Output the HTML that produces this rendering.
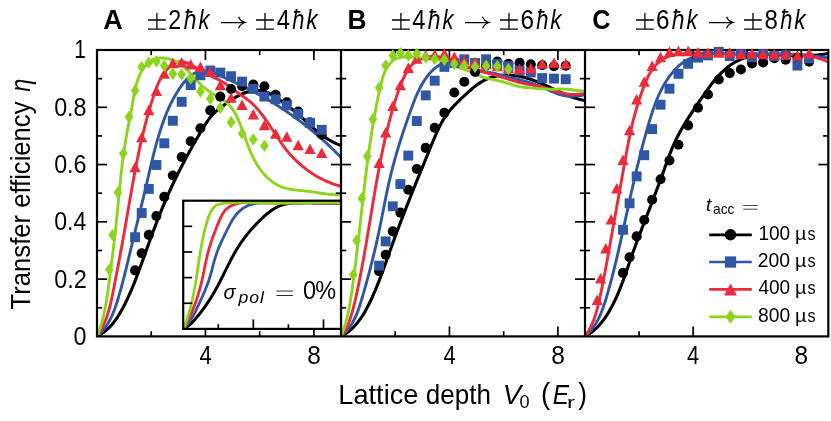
<!DOCTYPE html>
<html><head><meta charset="utf-8"><title>Transfer efficiency</title>
<style>
html,body{margin:0;padding:0;background:#fff;}
body{width:831px;height:421px;overflow:hidden;font-family:"Liberation Sans",sans-serif;}
svg{display:block;}
text{font-family:"Liberation Sans",sans-serif;fill:#000;}
.tk{font-size:20.6px;}
.lg{font-size:18.2px;}
.lgi{font-size:18.2px;font-style:italic;}
.sub{font-size:14px;}
.tb{font-size:24.4px;font-weight:bold;}
.tr{font-size:23.4px;}
.ti{font-size:23.4px;font-style:italic;}
.ax{font-size:26px;}
.axi{font-size:26px;font-style:italic;}
.axs{font-size:18px;}
.insub{font-size:18px;font-style:italic;letter-spacing:1.6px;}
.yl{letter-spacing:0.5px;}
</style></head>
<body>
<svg width="831" height="421" viewBox="0 0 831 421">
<rect width="831" height="421" fill="#fff"/>
<defs>
<clipPath id="cA"><rect x="97" y="50" width="244" height="286.4"/></clipPath>
<clipPath id="cB"><rect x="341" y="50" width="244" height="286.4"/></clipPath>
<clipPath id="cC"><rect x="585" y="50" width="243.3" height="286.4"/></clipPath>
<clipPath id="cI"><rect x="183.2" y="200.7" width="157.8" height="128.5"/></clipPath>
</defs>
<g clip-path="url(#cA)">
<path d="M97 336.4 L98.36 335.7 L99.69 334.96 L100.97 334.17 L102.23 333.35 L103.44 332.49 L104.63 331.59 L105.78 330.66 L106.89 329.69 L107.98 328.69 L109.04 327.67 L110.07 326.61 L111.07 325.52 L112.04 324.41 L112.99 323.27 L113.92 322.11 L114.82 320.93 L115.7 319.73 L116.55 318.5 L117.39 317.26 L118.2 316.01 L119 314.74 L119.78 313.45 L120.54 312.15 L121.28 310.84 L122.02 309.53 L122.73 308.2 L123.44 306.87 L124.13 305.53 L124.81 304.19 L125.49 302.85 L126.15 301.5 L126.8 300.15 L127.44 298.8 L128.08 297.44 L128.7 296.08 L129.32 294.72 L129.93 293.35 L130.53 291.98 L131.12 290.61 L131.7 289.24 L132.28 287.86 L132.85 286.48 L133.42 285.1 L133.98 283.72 L134.53 282.34 L135.08 280.95 L135.62 279.56 L136.16 278.17 L136.69 276.78 L137.22 275.38 L137.75 273.99 L138.27 272.59 L138.79 271.19 L139.31 269.79 L139.82 268.39 L140.33 266.99 L140.84 265.58 L141.35 264.18 L141.85 262.77 L142.36 261.37 L142.86 259.96 L143.36 258.55 L143.87 257.14 L144.37 255.74 L144.88 254.33 L145.38 252.92 L145.89 251.51 L146.39 250.1 L146.9 248.69 L147.41 247.28 L147.92 245.87 L148.43 244.46 L148.94 243.06 L149.45 241.65 L149.96 240.24 L150.48 238.83 L150.99 237.42 L151.51 236.02 L152.03 234.61 L152.55 233.2 L153.07 231.8 L153.6 230.39 L154.13 228.99 L154.65 227.59 L155.19 226.18 L155.72 224.78 L156.25 223.38 L156.79 221.98 L157.33 220.59 L157.88 219.19 L158.42 217.8 L158.97 216.4 L159.52 215.01 L160.08 213.62 L160.63 212.23 L161.19 210.84 L161.76 209.46 L162.32 208.07 L162.9 206.69 L163.47 205.31 L164.05 203.93 L164.63 202.56 L165.21 201.18 L165.8 199.81 L166.39 198.44 L166.99 197.07 L167.59 195.71 L168.19 194.34 L168.8 192.98 L169.41 191.62 L170.03 190.27 L170.65 188.91 L171.27 187.56 L171.89 186.2 L172.52 184.85 L173.16 183.51 L173.8 182.16 L174.44 180.81 L175.08 179.47 L175.73 178.13 L176.38 176.79 L177.04 175.45 L177.7 174.11 L178.36 172.78 L179.03 171.44 L179.7 170.11 L180.37 168.78 L181.05 167.45 L181.73 166.12 L182.42 164.8 L183.1 163.47 L183.8 162.15 L184.49 160.82 L185.19 159.5 L185.89 158.18 L186.6 156.86 L187.31 155.54 L188.02 154.23 L188.74 152.91 L189.46 151.59 L190.19 150.28 L190.91 148.97 L191.65 147.65 L192.38 146.34 L193.12 145.03 L193.86 143.72 L194.6 142.42 L195.35 141.11 L196.11 139.81 L196.86 138.51 L197.62 137.21 L198.38 135.91 L199.15 134.62 L199.91 133.33 L200.69 132.04 L201.46 130.76 L202.24 129.48 L203.02 128.2 L203.81 126.92 L204.59 125.65 L205.39 124.38 L206.19 123.13 L207 121.88 L207.82 120.65 L208.67 119.44 L209.54 118.26 L210.44 117.1 L211.37 115.97 L212.33 114.88 L213.34 113.84 L214.38 112.82 L215.45 111.84 L216.56 110.89 L217.69 109.96 L218.85 109.04 L220.02 108.13 L221.21 107.22 L222.41 106.31 L223.63 105.39 L224.85 104.48 L226.08 103.58 L227.32 102.68 L228.57 101.79 L229.84 100.91 L231.11 100.05 L232.39 99.21 L233.69 98.39 L234.99 97.6 L236.31 96.83 L237.63 96.09 L238.97 95.39 L240.31 94.72 L241.67 94.1 L243.04 93.51 L244.41 92.97 L245.8 92.48 L247.2 92.03 L248.6 91.64 L250.02 91.31 L251.45 91.04 L252.89 90.83 L254.33 90.68 L255.79 90.6 L257.24 90.59 L258.7 90.66 L260.15 90.79 L261.59 91.01 L263.03 91.3 L264.44 91.67 L265.84 92.12 L267.22 92.64 L268.58 93.23 L269.93 93.88 L271.26 94.58 L272.58 95.32 L273.88 96.09 L275.17 96.89 L276.45 97.71 L277.72 98.54 L278.97 99.38 L280.22 100.23 L281.45 101.09 L282.68 101.96 L283.9 102.84 L285.11 103.73 L286.31 104.63 L287.5 105.54 L288.68 106.45 L289.85 107.38 L291.02 108.32 L292.18 109.26 L293.33 110.21 L294.48 111.17 L295.62 112.13 L296.75 113.11 L297.88 114.09 L299 115.08 L300.12 116.07 L301.24 117.07 L302.35 118.08 L303.45 119.09 L304.56 120.1 L305.66 121.11 L306.77 122.12 L307.87 123.13 L308.98 124.13 L310.09 125.14 L311.2 126.14 L312.32 127.13 L313.44 128.11 L314.56 129.09 L315.7 130.06 L316.84 131.01 L317.99 131.95 L319.14 132.88 L320.31 133.8 L321.49 134.7 L322.68 135.58 L323.88 136.45 L325.09 137.29 L326.32 138.12 L327.57 138.92 L328.82 139.7 L330.1 140.46 L331.39 141.19 L332.7 141.89 L334.04 142.57 L335.39 143.22 L336.76 143.84 L338.15 144.42 L339.56 144.98 L341 145.5" fill="none" stroke="#000000" stroke-width="3.1" stroke-linejoin="round"/>
<path d="M97 336.4 L98.15 335.41 L99.26 334.38 L100.32 333.33 L101.35 332.25 L102.34 331.14 L103.3 330.01 L104.21 328.86 L105.1 327.68 L105.95 326.48 L106.77 325.26 L107.56 324.02 L108.32 322.76 L109.05 321.48 L109.75 320.19 L110.43 318.87 L111.09 317.54 L111.72 316.2 L112.32 314.84 L112.91 313.47 L113.48 312.09 L114.03 310.7 L114.56 309.3 L115.07 307.89 L115.57 306.47 L116.06 305.04 L116.53 303.61 L117 302.17 L117.45 300.73 L117.89 299.28 L118.33 297.83 L118.75 296.38 L119.18 294.93 L119.59 293.48 L120.01 292.03 L120.41 290.58 L120.82 289.13 L121.22 287.68 L121.61 286.23 L122 284.77 L122.39 283.32 L122.77 281.87 L123.16 280.42 L123.53 278.97 L123.91 277.51 L124.28 276.06 L124.64 274.61 L125.01 273.15 L125.37 271.7 L125.73 270.25 L126.09 268.8 L126.45 267.34 L126.8 265.89 L127.15 264.44 L127.51 262.98 L127.86 261.53 L128.2 260.08 L128.55 258.62 L128.9 257.17 L129.25 255.72 L129.59 254.26 L129.94 252.81 L130.28 251.36 L130.63 249.9 L130.97 248.45 L131.32 247 L131.67 245.55 L132.01 244.09 L132.36 242.64 L132.71 241.19 L133.06 239.74 L133.41 238.29 L133.76 236.83 L134.12 235.38 L134.47 233.93 L134.82 232.48 L135.18 231.03 L135.53 229.58 L135.89 228.13 L136.25 226.67 L136.6 225.22 L136.96 223.77 L137.32 222.32 L137.68 220.87 L138.03 219.41 L138.39 217.96 L138.75 216.51 L139.11 215.06 L139.46 213.6 L139.82 212.15 L140.18 210.7 L140.54 209.24 L140.89 207.79 L141.25 206.33 L141.61 204.88 L141.96 203.42 L142.32 201.96 L142.67 200.51 L143.02 199.05 L143.37 197.59 L143.73 196.13 L144.08 194.67 L144.43 193.21 L144.78 191.75 L145.12 190.29 L145.47 188.83 L145.81 187.37 L146.16 185.9 L146.5 184.44 L146.84 182.98 L147.18 181.51 L147.52 180.04 L147.86 178.58 L148.2 177.11 L148.54 175.65 L148.88 174.18 L149.22 172.71 L149.56 171.25 L149.9 169.78 L150.24 168.31 L150.59 166.85 L150.93 165.39 L151.28 163.92 L151.63 162.46 L151.98 161 L152.33 159.54 L152.68 158.08 L153.04 156.62 L153.4 155.16 L153.77 153.71 L154.14 152.25 L154.51 150.8 L154.88 149.35 L155.26 147.9 L155.65 146.46 L156.03 145.01 L156.43 143.57 L156.83 142.13 L157.23 140.69 L157.64 139.26 L158.05 137.83 L158.47 136.4 L158.9 134.97 L159.33 133.55 L159.77 132.13 L160.21 130.71 L160.67 129.3 L161.12 127.89 L161.59 126.49 L162.07 125.08 L162.55 123.68 L163.04 122.29 L163.54 120.9 L164.05 119.51 L164.56 118.13 L165.09 116.75 L165.63 115.37 L166.19 113.99 L166.75 112.62 L167.32 111.26 L167.91 109.9 L168.52 108.54 L169.13 107.18 L169.76 105.83 L170.41 104.48 L171.07 103.13 L171.74 101.79 L172.44 100.45 L173.14 99.11 L173.87 97.78 L174.62 96.45 L175.38 95.13 L176.16 93.8 L176.96 92.48 L177.78 91.17 L178.62 89.86 L179.48 88.55 L180.37 87.25 L181.27 85.96 L182.2 84.69 L183.15 83.45 L184.13 82.23 L185.13 81.05 L186.15 79.91 L187.2 78.81 L188.28 77.76 L189.38 76.76 L190.51 75.82 L191.67 74.95 L192.85 74.14 L194.07 73.41 L195.31 72.76 L196.59 72.19 L197.9 71.71 L199.23 71.33 L200.59 71.03 L201.97 70.83 L203.37 70.73 L204.77 70.73 L206.18 70.83 L207.59 71.03 L209 71.31 L210.41 71.68 L211.82 72.11 L213.23 72.6 L214.64 73.14 L216.05 73.73 L217.45 74.34 L218.85 74.98 L220.25 75.63 L221.65 76.29 L223.04 76.94 L224.43 77.58 L225.82 78.23 L227.2 78.87 L228.58 79.51 L229.95 80.14 L231.32 80.78 L232.69 81.42 L234.05 82.05 L235.41 82.69 L236.77 83.33 L238.12 83.97 L239.47 84.61 L240.82 85.26 L242.17 85.91 L243.51 86.56 L244.85 87.22 L246.18 87.88 L247.52 88.55 L248.85 89.23 L250.18 89.91 L251.5 90.59 L252.82 91.29 L254.14 91.98 L255.46 92.69 L256.77 93.4 L258.09 94.11 L259.39 94.83 L260.7 95.56 L262 96.29 L263.3 97.03 L264.6 97.77 L265.89 98.52 L267.18 99.27 L268.47 100.03 L269.75 100.8 L271.03 101.57 L272.31 102.35 L273.58 103.13 L274.85 103.91 L276.12 104.71 L277.38 105.51 L278.64 106.31 L279.9 107.12 L281.15 107.93 L282.4 108.75 L283.65 109.58 L284.89 110.41 L286.13 111.25 L287.37 112.09 L288.6 112.94 L289.83 113.79 L291.06 114.65 L292.28 115.51 L293.5 116.38 L294.71 117.25 L295.92 118.13 L297.13 119.01 L298.33 119.9 L299.53 120.8 L300.73 121.7 L301.92 122.6 L303.11 123.52 L304.29 124.43 L305.47 125.35 L306.65 126.28 L307.82 127.21 L308.99 128.15 L310.15 129.09 L311.31 130.04 L312.47 130.99 L313.62 131.94 L314.77 132.91 L315.91 133.87 L317.05 134.85 L318.19 135.82 L319.32 136.81 L320.44 137.79 L321.57 138.79 L322.68 139.78 L323.8 140.79 L324.91 141.79 L326.01 142.81 L327.11 143.82 L328.21 144.85 L329.3 145.87 L330.39 146.91 L331.47 147.94 L332.55 148.99 L333.62 150.03 L334.69 151.09 L335.75 152.14 L336.81 153.2 L337.86 154.27 L338.91 155.34 L339.96 156.42 L341 157.5" fill="none" stroke="#2f57a6" stroke-width="2.9" stroke-linejoin="round"/>
<path d="M97 336.4 L97.87 335.16 L98.7 333.9 L99.5 332.63 L100.27 331.34 L101.01 330.05 L101.72 328.74 L102.4 327.42 L103.05 326.09 L103.68 324.75 L104.28 323.4 L104.85 322.03 L105.4 320.66 L105.93 319.28 L106.44 317.89 L106.93 316.5 L107.4 315.09 L107.85 313.68 L108.28 312.26 L108.7 310.83 L109.1 309.4 L109.48 307.96 L109.85 306.52 L110.21 305.07 L110.56 303.62 L110.9 302.16 L111.23 300.7 L111.55 299.24 L111.86 297.77 L112.17 296.3 L112.47 294.83 L112.76 293.36 L113.06 291.89 L113.35 290.41 L113.63 288.94 L113.92 287.46 L114.21 285.99 L114.5 284.51 L114.79 283.04 L115.07 281.56 L115.36 280.09 L115.64 278.61 L115.93 277.14 L116.21 275.67 L116.49 274.19 L116.78 272.72 L117.06 271.24 L117.34 269.77 L117.62 268.29 L117.9 266.82 L118.18 265.35 L118.46 263.87 L118.74 262.4 L119.02 260.92 L119.29 259.45 L119.57 257.98 L119.84 256.5 L120.12 255.03 L120.39 253.56 L120.66 252.08 L120.94 250.61 L121.21 249.13 L121.48 247.66 L121.75 246.19 L122.02 244.71 L122.29 243.24 L122.55 241.77 L122.82 240.29 L123.08 238.82 L123.35 237.35 L123.61 235.87 L123.88 234.4 L124.14 232.93 L124.4 231.45 L124.66 229.98 L124.92 228.51 L125.18 227.03 L125.43 225.56 L125.69 224.09 L125.95 222.61 L126.2 221.14 L126.46 219.67 L126.71 218.2 L126.96 216.72 L127.22 215.25 L127.47 213.78 L127.72 212.3 L127.98 210.83 L128.23 209.36 L128.48 207.89 L128.73 206.42 L128.99 204.94 L129.24 203.47 L129.49 202 L129.75 200.53 L130 199.06 L130.26 197.59 L130.51 196.11 L130.77 194.64 L131.02 193.17 L131.28 191.7 L131.54 190.23 L131.8 188.76 L132.06 187.29 L132.32 185.82 L132.58 184.35 L132.85 182.88 L133.11 181.41 L133.38 179.95 L133.65 178.48 L133.92 177.01 L134.19 175.54 L134.46 174.07 L134.74 172.61 L135.01 171.14 L135.29 169.67 L135.57 168.21 L135.86 166.74 L136.14 165.27 L136.43 163.81 L136.72 162.34 L137.01 160.88 L137.3 159.41 L137.6 157.95 L137.9 156.49 L138.2 155.02 L138.51 153.56 L138.81 152.1 L139.12 150.64 L139.44 149.17 L139.75 147.71 L140.07 146.25 L140.39 144.79 L140.72 143.33 L141.05 141.87 L141.38 140.41 L141.72 138.95 L142.06 137.49 L142.4 136.04 L142.75 134.58 L143.1 133.12 L143.45 131.67 L143.81 130.21 L144.17 128.75 L144.54 127.3 L144.91 125.84 L145.28 124.39 L145.66 122.94 L146.04 121.48 L146.43 120.03 L146.82 118.58 L147.22 117.13 L147.62 115.68 L148.03 114.23 L148.44 112.78 L148.85 111.33 L149.27 109.88 L149.7 108.43 L150.13 106.99 L150.57 105.54 L151.01 104.09 L151.45 102.65 L151.9 101.2 L152.36 99.76 L152.82 98.32 L153.29 96.87 L153.77 95.43 L154.25 93.99 L154.73 92.55 L155.23 91.12 L155.74 89.69 L156.27 88.27 L156.81 86.86 L157.36 85.46 L157.94 84.08 L158.54 82.71 L159.17 81.36 L159.82 80.03 L160.49 78.72 L161.2 77.43 L161.94 76.16 L162.71 74.92 L163.52 73.71 L164.37 72.53 L165.25 71.38 L166.18 70.26 L167.15 69.18 L168.17 68.13 L169.24 67.13 L170.35 66.16 L171.51 65.26 L172.7 64.43 L173.93 63.69 L175.2 63.04 L176.5 62.5 L177.82 62.09 L179.17 61.81 L180.53 61.68 L181.91 61.71 L183.31 61.87 L184.7 62.16 L186.09 62.56 L187.48 63.07 L188.86 63.67 L190.23 64.35 L191.59 65.09 L192.95 65.88 L194.31 66.71 L195.66 67.56 L197.01 68.42 L198.36 69.28 L199.71 70.12 L201.06 70.92 L202.41 71.69 L203.76 72.43 L205.11 73.14 L206.46 73.83 L207.8 74.5 L209.14 75.16 L210.48 75.8 L211.82 76.44 L213.15 77.07 L214.47 77.7 L215.79 78.34 L217.1 78.98 L218.4 79.63 L219.69 80.3 L220.97 80.99 L222.24 81.7 L223.5 82.44 L224.75 83.21 L225.99 84.01 L227.21 84.85 L228.42 85.71 L229.63 86.6 L230.84 87.5 L232.05 88.41 L233.25 89.33 L234.47 90.25 L235.69 91.16 L236.92 92.07 L238.16 92.96 L239.4 93.84 L240.66 94.71 L241.91 95.58 L243.16 96.45 L244.4 97.33 L245.62 98.21 L246.83 99.11 L248.02 100.03 L249.19 100.97 L250.33 101.94 L251.44 102.92 L252.53 103.93 L253.6 104.96 L254.64 106 L255.67 107.07 L256.67 108.15 L257.65 109.25 L258.62 110.37 L259.57 111.5 L260.51 112.65 L261.42 113.81 L262.33 114.99 L263.22 116.17 L264.1 117.37 L264.97 118.57 L265.83 119.79 L266.68 121.01 L267.52 122.25 L268.36 123.49 L269.19 124.73 L270.01 125.98 L270.83 127.23 L271.65 128.49 L272.46 129.75 L273.28 131.01 L274.09 132.27 L274.91 133.53 L275.72 134.79 L276.55 136.05 L277.37 137.31 L278.2 138.56 L279.03 139.81 L279.88 141.05 L280.73 142.29 L281.59 143.51 L282.46 144.74 L283.34 145.95 L284.23 147.15 L285.14 148.34 L286.06 149.52 L286.99 150.69 L287.94 151.84 L288.91 152.99 L289.89 154.11 L290.88 155.23 L291.89 156.33 L292.92 157.42 L293.95 158.49 L295.01 159.55 L296.07 160.6 L297.16 161.63 L298.25 162.64 L299.36 163.64 L300.48 164.63 L301.62 165.59 L302.76 166.55 L303.93 167.48 L305.1 168.4 L306.29 169.31 L307.48 170.19 L308.7 171.06 L309.92 171.92 L311.15 172.75 L312.4 173.57 L313.66 174.37 L314.93 175.15 L316.21 175.92 L317.5 176.66 L318.8 177.39 L320.12 178.1 L321.44 178.79 L322.78 179.45 L324.12 180.1 L325.48 180.73 L326.84 181.34 L328.22 181.93 L329.6 182.5 L330.99 183.05 L332.4 183.58 L333.81 184.09 L335.23 184.57 L336.66 185.04 L338.1 185.48 L339.55 185.9 L341 186.3" fill="none" stroke="#ec2a3a" stroke-width="2.9" stroke-linejoin="round"/>
<path d="M97 336.4 L97.57 335 L98.12 333.6 L98.65 332.19 L99.16 330.78 L99.66 329.36 L100.13 327.94 L100.59 326.51 L101.03 325.08 L101.46 323.65 L101.87 322.21 L102.27 320.77 L102.65 319.32 L103.02 317.87 L103.37 316.42 L103.71 314.96 L104.04 313.5 L104.36 312.04 L104.67 310.58 L104.97 309.11 L105.25 307.64 L105.53 306.17 L105.8 304.69 L106.05 303.22 L106.31 301.74 L106.55 300.26 L106.78 298.78 L107.02 297.29 L107.24 295.81 L107.46 294.33 L107.67 292.84 L107.88 291.35 L108.09 289.87 L108.29 288.38 L108.49 286.89 L108.69 285.4 L108.88 283.91 L109.08 282.43 L109.27 280.94 L109.47 279.45 L109.66 277.96 L109.85 276.48 L110.05 274.99 L110.24 273.5 L110.43 272.02 L110.62 270.53 L110.81 269.05 L111 267.56 L111.19 266.07 L111.38 264.59 L111.56 263.1 L111.75 261.62 L111.94 260.13 L112.12 258.65 L112.31 257.16 L112.49 255.68 L112.67 254.19 L112.85 252.71 L113.03 251.22 L113.21 249.74 L113.39 248.25 L113.57 246.77 L113.74 245.28 L113.92 243.8 L114.09 242.31 L114.27 240.82 L114.44 239.34 L114.61 237.85 L114.78 236.36 L114.95 234.88 L115.12 233.39 L115.28 231.9 L115.45 230.41 L115.61 228.92 L115.77 227.43 L115.94 225.95 L116.1 224.46 L116.25 222.97 L116.41 221.47 L116.57 219.98 L116.72 218.49 L116.87 217 L117.02 215.51 L117.17 214.01 L117.32 212.52 L117.47 211.03 L117.62 209.53 L117.76 208.04 L117.9 206.54 L118.05 205.04 L118.19 203.55 L118.33 202.05 L118.48 200.56 L118.62 199.06 L118.76 197.56 L118.9 196.07 L119.05 194.57 L119.19 193.07 L119.33 191.58 L119.48 190.08 L119.62 188.58 L119.77 187.09 L119.92 185.59 L120.07 184.1 L120.22 182.6 L120.37 181.11 L120.52 179.61 L120.68 178.12 L120.83 176.62 L120.99 175.13 L121.15 173.64 L121.32 172.15 L121.48 170.66 L121.65 169.17 L121.83 167.68 L122 166.19 L122.18 164.7 L122.36 163.21 L122.54 161.73 L122.73 160.24 L122.92 158.76 L123.11 157.27 L123.31 155.79 L123.51 154.31 L123.72 152.83 L123.93 151.35 L124.15 149.87 L124.37 148.4 L124.59 146.92 L124.82 145.45 L125.05 143.98 L125.29 142.51 L125.54 141.04 L125.79 139.57 L126.04 138.1 L126.3 136.64 L126.56 135.17 L126.83 133.71 L127.1 132.25 L127.37 130.78 L127.65 129.32 L127.93 127.86 L128.21 126.39 L128.49 124.93 L128.78 123.46 L129.06 122 L129.35 120.53 L129.63 119.06 L129.92 117.59 L130.2 116.12 L130.49 114.64 L130.77 113.17 L131.05 111.69 L131.33 110.2 L131.61 108.72 L131.88 107.23 L132.15 105.74 L132.42 104.24 L132.68 102.74 L132.94 101.24 L133.2 99.73 L133.46 98.22 L133.73 96.72 L134 95.21 L134.28 93.71 L134.57 92.22 L134.87 90.72 L135.19 89.24 L135.52 87.76 L135.88 86.29 L136.25 84.84 L136.65 83.39 L137.08 81.96 L137.54 80.54 L138.02 79.14 L138.54 77.76 L139.09 76.39 L139.68 75.04 L140.31 73.72 L140.99 72.41 L141.7 71.13 L142.47 69.87 L143.28 68.64 L144.14 67.44 L145.05 66.28 L146.01 65.17 L147.02 64.11 L148.08 63.11 L149.2 62.18 L150.36 61.33 L151.57 60.57 L152.84 59.9 L154.16 59.33 L155.52 58.86 L156.93 58.5 L158.38 58.24 L159.86 58.07 L161.36 58 L162.88 58.01 L164.41 58.11 L165.94 58.3 L167.47 58.56 L168.99 58.9 L170.5 59.32 L171.98 59.8 L173.43 60.35 L174.84 60.96 L176.21 61.63 L177.54 62.36 L178.82 63.13 L180.07 63.96 L181.28 64.83 L182.45 65.74 L183.6 66.69 L184.72 67.67 L185.81 68.69 L186.89 69.72 L187.94 70.79 L188.98 71.87 L190.01 72.96 L191.02 74.07 L192.03 75.19 L193.04 76.31 L194.04 77.43 L195.04 78.55 L196.05 79.67 L197.07 80.77 L198.1 81.86 L199.14 82.94 L200.2 83.99 L201.27 85.02 L202.37 86.02 L203.48 86.99 L204.62 87.94 L205.78 88.87 L206.96 89.77 L208.16 90.65 L209.39 91.5 L210.63 92.33 L211.89 93.15 L213.18 93.94 L214.48 94.71 L215.8 95.46 L217.14 96.21 L218.47 96.96 L219.79 97.71 L221.09 98.48 L222.36 99.28 L223.6 100.11 L224.79 100.99 L225.92 101.91 L227.01 102.87 L228.06 103.87 L229.06 104.91 L230.02 105.99 L230.94 107.11 L231.82 108.26 L232.66 109.43 L233.47 110.64 L234.25 111.88 L234.99 113.14 L235.71 114.43 L236.4 115.74 L237.06 117.07 L237.71 118.42 L238.33 119.79 L238.93 121.17 L239.51 122.57 L240.08 123.97 L240.63 125.39 L241.18 126.81 L241.71 128.25 L242.23 129.68 L242.75 131.12 L243.26 132.56 L243.77 133.99 L244.28 135.43 L244.79 136.86 L245.3 138.29 L245.81 139.72 L246.33 141.14 L246.85 142.56 L247.38 143.97 L247.91 145.38 L248.46 146.78 L249.01 148.18 L249.57 149.56 L250.15 150.95 L250.74 152.32 L251.34 153.68 L251.96 155.04 L252.6 156.39 L253.25 157.72 L253.92 159.05 L254.62 160.37 L255.33 161.67 L256.07 162.97 L256.83 164.25 L257.62 165.52 L258.44 166.78 L259.28 168.02 L260.15 169.24 L261.04 170.45 L261.96 171.64 L262.91 172.8 L263.88 173.94 L264.88 175.05 L265.91 176.14 L266.96 177.2 L268.04 178.22 L269.14 179.21 L270.27 180.17 L271.43 181.08 L272.61 181.96 L273.82 182.8 L275.05 183.59 L276.3 184.34 L277.59 185.04 L278.89 185.7 L280.23 186.3 L281.58 186.85 L282.96 187.35 L284.37 187.8 L285.79 188.2 L287.23 188.57 L288.69 188.89 L290.17 189.19 L291.65 189.45 L293.15 189.68 L294.66 189.9 L296.18 190.09 L297.7 190.26 L299.23 190.43 L300.75 190.58 L302.28 190.73 L303.81 190.87 L305.34 191.02 L306.86 191.17 L308.37 191.33 L309.88 191.51 L311.37 191.7 L312.85 191.9 L314.33 192.12 L315.8 192.34 L317.26 192.58 L318.72 192.81 L320.17 193.05 L321.62 193.28 L323.08 193.51 L324.53 193.73 L325.99 193.93 L327.45 194.12 L328.91 194.29 L330.38 194.44 L331.86 194.56 L333.35 194.66 L334.85 194.72 L336.37 194.75 L337.9 194.74 L339.44 194.69 L341 194.6" fill="none" stroke="#8cd51c" stroke-width="2.9" stroke-linejoin="round"/>
</g>
<g clip-path="url(#cB)">
<path d="M341 336.4 L342.36 335.67 L343.67 334.91 L344.96 334.1 L346.21 333.27 L347.42 332.39 L348.61 331.49 L349.76 330.55 L350.88 329.59 L351.98 328.59 L353.04 327.56 L354.07 326.51 L355.08 325.43 L356.06 324.33 L357.02 323.2 L357.95 322.05 L358.86 320.88 L359.74 319.69 L360.61 318.48 L361.45 317.25 L362.27 316 L363.07 314.74 L363.86 313.46 L364.62 312.17 L365.37 310.86 L366.11 309.55 L366.83 308.22 L367.53 306.89 L368.22 305.54 L368.9 304.19 L369.57 302.84 L370.22 301.48 L370.87 300.11 L371.51 298.75 L372.14 297.38 L372.76 296 L373.37 294.63 L373.97 293.25 L374.57 291.87 L375.16 290.49 L375.74 289.11 L376.32 287.72 L376.89 286.33 L377.45 284.94 L378.01 283.55 L378.56 282.15 L379.1 280.76 L379.64 279.36 L380.18 277.96 L380.71 276.56 L381.24 275.16 L381.76 273.76 L382.28 272.36 L382.8 270.95 L383.31 269.54 L383.83 268.14 L384.34 266.73 L384.84 265.32 L385.35 263.91 L385.85 262.51 L386.35 261.1 L386.86 259.69 L387.36 258.28 L387.86 256.87 L388.36 255.46 L388.86 254.05 L389.36 252.64 L389.87 251.23 L390.37 249.82 L390.87 248.41 L391.38 247 L391.89 245.59 L392.4 244.18 L392.91 242.77 L393.43 241.37 L393.94 239.96 L394.46 238.55 L394.98 237.15 L395.5 235.74 L396.02 234.34 L396.54 232.93 L397.06 231.53 L397.59 230.13 L398.12 228.72 L398.64 227.32 L399.17 225.92 L399.7 224.52 L400.24 223.11 L400.77 221.71 L401.3 220.31 L401.84 218.91 L402.38 217.51 L402.92 216.11 L403.46 214.71 L404 213.31 L404.54 211.92 L405.08 210.52 L405.62 209.12 L406.17 207.72 L406.71 206.32 L407.26 204.93 L407.81 203.53 L408.36 202.13 L408.91 200.74 L409.46 199.34 L410.01 197.95 L410.56 196.55 L411.12 195.16 L411.67 193.76 L412.23 192.37 L412.78 190.98 L413.34 189.58 L413.9 188.19 L414.45 186.8 L415.01 185.41 L415.57 184.01 L416.13 182.62 L416.69 181.23 L417.26 179.84 L417.82 178.45 L418.38 177.06 L418.94 175.67 L419.51 174.28 L420.07 172.89 L420.64 171.5 L421.2 170.11 L421.77 168.72 L422.34 167.33 L422.9 165.94 L423.47 164.55 L424.04 163.16 L424.6 161.78 L425.17 160.39 L425.74 159 L426.31 157.61 L426.88 156.23 L427.45 154.84 L428.02 153.45 L428.59 152.07 L429.16 150.68 L429.73 149.3 L430.3 147.91 L430.87 146.53 L431.44 145.14 L432.01 143.75 L432.58 142.37 L433.15 140.99 L433.73 139.6 L434.3 138.22 L434.89 136.85 L435.47 135.47 L436.07 134.1 L436.67 132.74 L437.29 131.38 L437.91 130.03 L438.55 128.68 L439.2 127.35 L439.86 126.02 L440.54 124.7 L441.24 123.39 L441.95 122.1 L442.68 120.81 L443.44 119.54 L444.22 118.28 L445.01 117.03 L445.84 115.8 L446.69 114.58 L447.56 113.38 L448.47 112.2 L449.4 111.03 L450.35 109.88 L451.33 108.74 L452.33 107.61 L453.35 106.5 L454.38 105.4 L455.43 104.31 L456.5 103.23 L457.57 102.16 L458.66 101.1 L459.75 100.04 L460.86 98.99 L461.96 97.95 L463.07 96.91 L464.18 95.87 L465.29 94.84 L466.4 93.81 L467.5 92.78 L468.62 91.77 L469.73 90.76 L470.85 89.77 L471.98 88.79 L473.12 87.83 L474.27 86.89 L475.44 85.98 L476.61 85.08 L477.81 84.22 L479.03 83.38 L480.26 82.58 L481.52 81.81 L482.8 81.08 L484.11 80.39 L485.45 79.74 L486.81 79.13 L488.19 78.57 L489.6 78.05 L491.03 77.57 L492.47 77.13 L493.93 76.73 L495.4 76.38 L496.89 76.07 L498.37 75.8 L499.87 75.57 L501.36 75.39 L502.86 75.25 L504.35 75.15 L505.85 75.09 L507.33 75.07 L508.82 75.1 L510.3 75.16 L511.78 75.26 L513.25 75.39 L514.72 75.56 L516.19 75.76 L517.65 75.99 L519.11 76.26 L520.57 76.55 L522.02 76.87 L523.47 77.22 L524.91 77.6 L526.35 78 L527.78 78.42 L529.21 78.87 L530.64 79.33 L532.06 79.82 L533.48 80.32 L534.89 80.85 L536.3 81.39 L537.71 81.94 L539.1 82.51 L540.5 83.09 L541.89 83.68 L543.27 84.28 L544.65 84.89 L546.03 85.51 L547.4 86.13 L548.76 86.76 L550.12 87.4 L551.47 88.03 L552.83 88.67 L554.17 89.31 L555.52 89.94 L556.86 90.58 L558.21 91.21 L559.55 91.83 L560.9 92.45 L562.25 93.05 L563.61 93.65 L564.97 94.24 L566.33 94.81 L567.7 95.37 L569.08 95.92 L570.47 96.45 L571.86 96.96 L573.27 97.45 L574.69 97.92 L576.12 98.36 L577.56 98.79 L579.01 99.18 L580.49 99.56 L581.97 99.9 L583.48 100.22 L585 100.5" fill="none" stroke="#000000" stroke-width="3.1" stroke-linejoin="round"/>
<path d="M341 336.4 L342.18 335.42 L343.32 334.4 L344.41 333.35 L345.45 332.28 L346.46 331.18 L347.42 330.05 L348.35 328.9 L349.23 327.72 L350.08 326.52 L350.9 325.3 L351.68 324.06 L352.43 322.79 L353.15 321.51 L353.85 320.21 L354.51 318.89 L355.15 317.56 L355.76 316.21 L356.35 314.85 L356.92 313.47 L357.47 312.08 L358 310.69 L358.51 309.28 L359.01 307.86 L359.49 306.43 L359.96 305 L360.42 303.57 L360.87 302.12 L361.31 300.68 L361.74 299.23 L362.17 297.78 L362.59 296.32 L363.01 294.87 L363.43 293.42 L363.85 291.97 L364.26 290.52 L364.67 289.07 L365.08 287.63 L365.49 286.18 L365.89 284.73 L366.29 283.28 L366.69 281.83 L367.09 280.39 L367.48 278.94 L367.88 277.49 L368.27 276.05 L368.66 274.6 L369.04 273.15 L369.42 271.7 L369.8 270.26 L370.18 268.81 L370.56 267.36 L370.93 265.91 L371.3 264.47 L371.67 263.02 L372.03 261.57 L372.39 260.12 L372.75 258.67 L373.11 257.22 L373.47 255.77 L373.82 254.32 L374.17 252.87 L374.51 251.42 L374.86 249.96 L375.2 248.51 L375.53 247.05 L375.87 245.6 L376.2 244.14 L376.53 242.69 L376.86 241.23 L377.18 239.77 L377.5 238.31 L377.82 236.85 L378.14 235.39 L378.45 233.92 L378.76 232.46 L379.07 230.99 L379.37 229.53 L379.67 228.06 L379.97 226.59 L380.27 225.12 L380.57 223.65 L380.87 222.18 L381.16 220.71 L381.45 219.24 L381.75 217.77 L382.04 216.29 L382.33 214.82 L382.62 213.35 L382.91 211.87 L383.2 210.4 L383.5 208.93 L383.79 207.45 L384.08 205.98 L384.37 204.51 L384.67 203.03 L384.96 201.56 L385.26 200.09 L385.56 198.62 L385.86 197.15 L386.16 195.68 L386.46 194.21 L386.77 192.74 L387.08 191.27 L387.39 189.8 L387.71 188.33 L388.02 186.87 L388.34 185.4 L388.67 183.94 L389 182.47 L389.33 181.01 L389.67 179.55 L390.01 178.09 L390.35 176.63 L390.7 175.18 L391.05 173.72 L391.41 172.27 L391.77 170.82 L392.14 169.37 L392.52 167.92 L392.89 166.47 L393.28 165.03 L393.66 163.58 L394.05 162.14 L394.45 160.7 L394.85 159.26 L395.25 157.82 L395.66 156.38 L396.07 154.94 L396.49 153.51 L396.91 152.07 L397.33 150.64 L397.76 149.21 L398.19 147.78 L398.63 146.35 L399.07 144.92 L399.51 143.49 L399.96 142.07 L400.41 140.64 L400.86 139.22 L401.32 137.79 L401.78 136.37 L402.24 134.95 L402.7 133.52 L403.17 132.1 L403.65 130.68 L404.12 129.26 L404.6 127.85 L405.08 126.43 L405.56 125.01 L406.05 123.59 L406.54 122.18 L407.03 120.76 L407.52 119.35 L408.02 117.93 L408.52 116.52 L409.02 115.11 L409.52 113.69 L410.03 112.28 L410.54 110.87 L411.05 109.45 L411.56 108.04 L412.08 106.63 L412.6 105.22 L413.12 103.82 L413.66 102.41 L414.2 101.01 L414.75 99.62 L415.31 98.23 L415.89 96.84 L416.48 95.46 L417.08 94.09 L417.7 92.72 L418.33 91.36 L418.98 90.01 L419.65 88.67 L420.35 87.33 L421.06 86.01 L421.79 84.7 L422.55 83.4 L423.34 82.11 L424.14 80.83 L424.98 79.57 L425.85 78.32 L426.74 77.08 L427.67 75.86 L428.62 74.66 L429.61 73.49 L430.62 72.35 L431.67 71.24 L432.74 70.18 L433.84 69.16 L434.97 68.2 L436.12 67.3 L437.31 66.46 L438.52 65.69 L439.75 65 L441.02 64.38 L442.3 63.86 L443.62 63.42 L444.96 63.08 L446.32 62.84 L447.7 62.7 L449.11 62.66 L450.54 62.71 L451.98 62.84 L453.44 63.04 L454.92 63.31 L456.4 63.63 L457.9 64 L459.4 64.42 L460.91 64.86 L462.42 65.34 L463.93 65.83 L465.44 66.34 L466.95 66.85 L468.46 67.35 L469.95 67.84 L471.44 68.31 L472.92 68.76 L474.39 69.18 L475.85 69.56 L477.29 69.93 L478.73 70.27 L480.17 70.59 L481.6 70.9 L483.02 71.2 L484.45 71.48 L485.87 71.76 L487.29 72.04 L488.71 72.32 L490.13 72.6 L491.56 72.88 L492.99 73.17 L494.43 73.48 L495.88 73.79 L497.33 74.12 L498.78 74.46 L500.25 74.81 L501.71 75.17 L503.18 75.53 L504.65 75.9 L506.12 76.28 L507.59 76.66 L509.06 77.05 L510.53 77.44 L512 77.83 L513.47 78.22 L514.94 78.61 L516.41 79 L517.87 79.38 L519.32 79.77 L520.77 80.15 L522.22 80.53 L523.66 80.92 L525.1 81.3 L526.53 81.7 L527.96 82.1 L529.38 82.51 L530.8 82.93 L532.21 83.37 L533.61 83.83 L535.01 84.3 L536.41 84.79 L537.8 85.3 L539.18 85.83 L540.56 86.39 L541.93 86.98 L543.3 87.58 L544.66 88.2 L546.02 88.82 L547.39 89.45 L548.75 90.08 L550.11 90.71 L551.48 91.33 L552.84 91.93 L554.22 92.51 L555.6 93.07 L556.98 93.6 L558.37 94.09 L559.78 94.55 L561.19 94.97 L562.61 95.34 L564.05 95.65 L565.5 95.91 L566.96 96.11 L568.44 96.23 L569.93 96.3 L571.44 96.3 L572.95 96.24 L574.47 96.15 L576 96.01 L577.52 95.85 L579.04 95.67 L580.55 95.47 L582.05 95.28 L583.53 95.08 L585 94.9" fill="none" stroke="#2f57a6" stroke-width="2.9" stroke-linejoin="round"/>
<path d="M341 336.4 L341.95 335.24 L342.85 334.04 L343.69 332.81 L344.49 331.56 L345.24 330.28 L345.95 328.98 L346.62 327.65 L347.25 326.3 L347.85 324.94 L348.42 323.56 L348.96 322.16 L349.47 320.75 L349.96 319.33 L350.43 317.91 L350.88 316.47 L351.32 315.04 L351.75 313.6 L352.16 312.15 L352.57 310.71 L352.96 309.26 L353.35 307.81 L353.72 306.36 L354.09 304.9 L354.45 303.45 L354.8 301.99 L355.14 300.53 L355.48 299.07 L355.81 297.61 L356.14 296.15 L356.46 294.68 L356.77 293.22 L357.09 291.75 L357.4 290.29 L357.7 288.82 L358.01 287.35 L358.31 285.89 L358.61 284.42 L358.9 282.95 L359.2 281.48 L359.49 280.01 L359.78 278.54 L360.07 277.07 L360.36 275.6 L360.64 274.13 L360.92 272.66 L361.2 271.19 L361.48 269.72 L361.76 268.25 L362.04 266.77 L362.31 265.3 L362.58 263.83 L362.85 262.36 L363.12 260.88 L363.39 259.41 L363.65 257.93 L363.92 256.46 L364.18 254.99 L364.44 253.51 L364.7 252.04 L364.96 250.56 L365.22 249.09 L365.48 247.61 L365.73 246.13 L365.99 244.66 L366.24 243.18 L366.49 241.71 L366.74 240.23 L366.99 238.75 L367.24 237.27 L367.49 235.8 L367.74 234.32 L367.99 232.84 L368.24 231.36 L368.48 229.89 L368.73 228.41 L368.98 226.93 L369.22 225.45 L369.46 223.97 L369.71 222.49 L369.95 221.01 L370.2 219.53 L370.44 218.06 L370.68 216.58 L370.93 215.1 L371.17 213.62 L371.42 212.14 L371.66 210.66 L371.9 209.18 L372.15 207.7 L372.39 206.22 L372.64 204.74 L372.89 203.27 L373.13 201.79 L373.38 200.31 L373.63 198.83 L373.88 197.35 L374.13 195.87 L374.38 194.39 L374.63 192.92 L374.88 191.44 L375.13 189.96 L375.39 188.48 L375.64 187.01 L375.9 185.53 L376.16 184.06 L376.42 182.58 L376.68 181.1 L376.94 179.63 L377.21 178.15 L377.47 176.68 L377.74 175.2 L378.01 173.73 L378.28 172.26 L378.56 170.78 L378.83 169.31 L379.11 167.84 L379.39 166.37 L379.67 164.9 L379.95 163.43 L380.24 161.96 L380.53 160.49 L380.82 159.02 L381.11 157.55 L381.41 156.08 L381.71 154.61 L382.01 153.15 L382.31 151.68 L382.62 150.22 L382.93 148.75 L383.24 147.29 L383.55 145.82 L383.87 144.36 L384.19 142.9 L384.52 141.44 L384.84 139.98 L385.18 138.52 L385.51 137.06 L385.85 135.6 L386.19 134.14 L386.53 132.69 L386.88 131.23 L387.23 129.78 L387.59 128.32 L387.95 126.87 L388.31 125.42 L388.68 123.96 L389.05 122.51 L389.43 121.06 L389.81 119.62 L390.19 118.17 L390.58 116.72 L390.97 115.28 L391.37 113.83 L391.77 112.39 L392.17 110.95 L392.58 109.51 L393 108.07 L393.42 106.63 L393.84 105.19 L394.27 103.75 L394.7 102.32 L395.14 100.88 L395.59 99.45 L396.04 98.02 L396.5 96.59 L396.96 95.16 L397.43 93.73 L397.92 92.31 L398.41 90.89 L398.91 89.47 L399.43 88.06 L399.95 86.65 L400.49 85.24 L401.04 83.84 L401.61 82.44 L402.19 81.04 L402.78 79.65 L403.4 78.26 L404.03 76.89 L404.68 75.52 L405.36 74.17 L406.07 72.84 L406.82 71.54 L407.61 70.27 L408.44 69.04 L409.32 67.84 L410.25 66.7 L411.24 65.6 L412.28 64.55 L413.36 63.56 L414.5 62.62 L415.68 61.74 L416.9 60.92 L418.16 60.16 L419.45 59.47 L420.78 58.84 L422.14 58.28 L423.53 57.8 L424.95 57.38 L426.39 57.04 L427.85 56.78 L429.33 56.59 L430.82 56.47 L432.31 56.41 L433.81 56.42 L435.3 56.49 L436.78 56.61 L438.25 56.79 L439.71 57.02 L441.17 57.3 L442.62 57.62 L444.06 57.98 L445.49 58.38 L446.92 58.82 L448.34 59.28 L449.76 59.78 L451.17 60.3 L452.58 60.84 L453.98 61.4 L455.39 61.97 L456.79 62.56 L458.19 63.15 L459.59 63.75 L460.98 64.35 L462.38 64.95 L463.78 65.55 L465.18 66.14 L466.58 66.71 L467.98 67.28 L469.39 67.82 L470.8 68.35 L472.22 68.85 L473.63 69.32 L475.06 69.78 L476.48 70.22 L477.91 70.63 L479.34 71.04 L480.77 71.43 L482.21 71.82 L483.64 72.19 L485.08 72.56 L486.52 72.93 L487.95 73.3 L489.39 73.66 L490.83 74.04 L492.27 74.42 L493.7 74.81 L495.14 75.21 L496.57 75.62 L498 76.03 L499.43 76.46 L500.86 76.89 L502.29 77.33 L503.72 77.76 L505.15 78.2 L506.58 78.65 L508.01 79.08 L509.44 79.52 L510.87 79.95 L512.3 80.38 L513.73 80.8 L515.16 81.21 L516.6 81.61 L518.03 82 L519.47 82.38 L520.91 82.74 L522.35 83.09 L523.8 83.42 L525.24 83.74 L526.69 84.04 L528.14 84.33 L529.59 84.62 L531.04 84.9 L532.49 85.18 L533.95 85.46 L535.4 85.74 L536.85 86.04 L538.29 86.34 L539.74 86.65 L541.19 86.98 L542.63 87.33 L544.07 87.7 L545.5 88.1 L546.93 88.51 L548.37 88.94 L549.79 89.38 L551.22 89.83 L552.65 90.28 L554.08 90.73 L555.51 91.17 L556.94 91.6 L558.37 92.02 L559.81 92.41 L561.25 92.79 L562.7 93.13 L564.14 93.44 L565.6 93.71 L567.06 93.94 L568.53 94.13 L570 94.26 L571.48 94.35 L572.97 94.39 L574.46 94.38 L575.96 94.32 L577.46 94.22 L578.96 94.06 L580.47 93.87 L581.98 93.62 L583.49 93.33 L585 93" fill="none" stroke="#ec2a3a" stroke-width="2.9" stroke-linejoin="round"/>
<path d="M341 336.4 L341.58 335 L342.13 333.6 L342.67 332.19 L343.18 330.78 L343.68 329.37 L344.16 327.94 L344.62 326.52 L345.06 325.09 L345.48 323.66 L345.89 322.22 L346.28 320.78 L346.66 319.34 L347.03 317.89 L347.38 316.44 L347.71 314.99 L348.04 313.53 L348.35 312.07 L348.65 310.61 L348.94 309.14 L349.22 307.68 L349.49 306.21 L349.76 304.74 L350.01 303.27 L350.26 301.79 L350.5 300.32 L350.73 298.84 L350.96 297.36 L351.18 295.88 L351.4 294.4 L351.62 292.92 L351.83 291.44 L352.04 289.96 L352.24 288.48 L352.45 286.99 L352.65 285.51 L352.86 284.03 L353.06 282.54 L353.26 281.06 L353.46 279.58 L353.65 278.09 L353.85 276.61 L354.04 275.13 L354.24 273.64 L354.43 272.16 L354.62 270.67 L354.81 269.19 L355 267.7 L355.19 266.22 L355.37 264.73 L355.56 263.25 L355.74 261.76 L355.92 260.27 L356.11 258.79 L356.29 257.3 L356.47 255.82 L356.65 254.33 L356.83 252.84 L357 251.36 L357.18 249.87 L357.36 248.38 L357.53 246.9 L357.71 245.41 L357.88 243.92 L358.06 242.44 L358.23 240.95 L358.4 239.46 L358.57 237.97 L358.74 236.49 L358.91 235 L359.08 233.51 L359.25 232.03 L359.42 230.54 L359.59 229.05 L359.76 227.56 L359.93 226.08 L360.1 224.59 L360.26 223.1 L360.43 221.62 L360.6 220.13 L360.77 218.64 L360.93 217.15 L361.1 215.67 L361.27 214.18 L361.43 212.69 L361.6 211.21 L361.77 209.72 L361.94 208.23 L362.1 206.75 L362.27 205.26 L362.44 203.77 L362.61 202.29 L362.78 200.8 L362.94 199.31 L363.11 197.83 L363.28 196.34 L363.45 194.86 L363.62 193.37 L363.8 191.88 L363.97 190.4 L364.14 188.91 L364.32 187.43 L364.49 185.94 L364.67 184.46 L364.84 182.97 L365.02 181.49 L365.2 180 L365.38 178.52 L365.56 177.03 L365.74 175.55 L365.92 174.06 L366.1 172.58 L366.29 171.09 L366.48 169.61 L366.66 168.13 L366.85 166.64 L367.04 165.16 L367.23 163.68 L367.43 162.19 L367.62 160.71 L367.82 159.23 L368.02 157.75 L368.22 156.27 L368.42 154.78 L368.62 153.3 L368.83 151.82 L369.03 150.34 L369.24 148.86 L369.45 147.38 L369.66 145.9 L369.88 144.42 L370.1 142.94 L370.31 141.46 L370.54 139.98 L370.76 138.5 L370.98 137.02 L371.21 135.54 L371.44 134.06 L371.67 132.58 L371.91 131.11 L372.15 129.63 L372.39 128.15 L372.63 126.67 L372.87 125.2 L373.12 123.72 L373.37 122.24 L373.62 120.77 L373.88 119.29 L374.14 117.82 L374.4 116.34 L374.66 114.87 L374.93 113.39 L375.2 111.92 L375.47 110.45 L375.75 108.97 L376.03 107.5 L376.31 106.03 L376.59 104.56 L376.88 103.08 L377.18 101.61 L377.47 100.14 L377.77 98.67 L378.07 97.2 L378.38 95.73 L378.69 94.26 L379 92.79 L379.32 91.32 L379.63 89.85 L379.96 88.39 L380.29 86.92 L380.62 85.45 L380.96 83.99 L381.31 82.53 L381.69 81.08 L382.08 79.63 L382.5 78.2 L382.94 76.78 L383.42 75.37 L383.93 73.98 L384.49 72.6 L385.09 71.24 L385.73 69.91 L386.43 68.59 L387.18 67.31 L388 66.04 L388.88 64.81 L389.81 63.63 L390.82 62.51 L391.88 61.46 L393 60.51 L394.18 59.68 L395.42 58.96 L396.72 58.38 L398.06 57.9 L399.45 57.53 L400.87 57.25 L402.33 57.06 L403.81 56.94 L405.32 56.89 L406.84 56.89 L408.38 56.93 L409.92 57.01 L411.46 57.12 L412.99 57.24 L414.52 57.36 L416.03 57.5 L417.54 57.63 L419.04 57.76 L420.53 57.89 L422.02 58.02 L423.51 58.15 L425 58.26 L426.48 58.38 L427.97 58.49 L429.45 58.61 L430.93 58.75 L432.41 58.9 L433.87 59.08 L435.33 59.29 L436.78 59.54 L438.21 59.83 L439.64 60.18 L441.05 60.58 L442.44 61.04 L443.82 61.55 L445.19 62.1 L446.56 62.67 L447.93 63.25 L449.29 63.84 L450.66 64.42 L452.04 65 L453.42 65.55 L454.8 66.07 L456.19 66.57 L457.59 67.06 L458.99 67.54 L460.38 68.02 L461.77 68.5 L463.16 68.99 L464.55 69.49 L465.92 70 L467.3 70.54 L468.66 71.1 L470.02 71.68 L471.38 72.3 L472.73 72.93 L474.07 73.56 L475.42 74.2 L476.78 74.82 L478.15 75.41 L479.53 75.97 L480.93 76.48 L482.33 76.95 L483.76 77.39 L485.19 77.79 L486.63 78.17 L488.09 78.52 L489.54 78.86 L491.01 79.18 L492.48 79.49 L493.94 79.79 L495.41 80.1 L496.88 80.41 L498.35 80.72 L499.81 81.05 L501.27 81.4 L502.72 81.77 L504.16 82.16 L505.6 82.58 L507.02 83.02 L508.45 83.47 L509.86 83.92 L511.28 84.37 L512.7 84.81 L514.11 85.24 L515.53 85.65 L516.96 86.03 L518.39 86.37 L519.83 86.67 L521.28 86.93 L522.73 87.16 L524.19 87.35 L525.66 87.51 L527.13 87.66 L528.61 87.79 L530.09 87.91 L531.57 88.02 L533.05 88.14 L534.54 88.26 L536.02 88.38 L537.51 88.5 L538.99 88.62 L540.48 88.73 L541.97 88.83 L543.45 88.93 L544.94 89.01 L546.42 89.08 L547.91 89.14 L549.39 89.18 L550.87 89.2 L552.35 89.2 L553.83 89.18 L555.31 89.14 L556.78 89.1 L558.26 89.07 L559.74 89.04 L561.21 89.02 L562.69 89.03 L564.17 89.06 L565.65 89.14 L567.13 89.25 L568.61 89.39 L570.09 89.56 L571.57 89.75 L573.06 89.95 L574.55 90.15 L576.03 90.34 L577.52 90.52 L579.02 90.67 L580.51 90.79 L582 90.88 L583.5 90.92 L585 90.9" fill="none" stroke="#8cd51c" stroke-width="2.9" stroke-linejoin="round"/>
</g>
<g clip-path="url(#cC)">
<path d="M585 336.4 L586.33 335.68 L587.62 334.91 L588.88 334.11 L590.12 333.28 L591.32 332.41 L592.5 331.5 L593.64 330.56 L594.76 329.6 L595.85 328.6 L596.92 327.57 L597.96 326.52 L598.97 325.44 L599.97 324.33 L600.93 323.21 L601.88 322.06 L602.8 320.88 L603.7 319.69 L604.58 318.48 L605.44 317.25 L606.27 316.01 L607.09 314.75 L607.89 313.47 L608.67 312.19 L609.44 310.89 L610.19 309.58 L610.92 308.26 L611.64 306.94 L612.34 305.61 L613.03 304.27 L613.7 302.93 L614.36 301.58 L615.01 300.23 L615.64 298.87 L616.27 297.51 L616.88 296.14 L617.48 294.77 L618.07 293.4 L618.65 292.02 L619.22 290.64 L619.79 289.26 L620.34 287.87 L620.89 286.48 L621.43 285.09 L621.96 283.69 L622.49 282.29 L623.01 280.89 L623.52 279.49 L624.03 278.08 L624.53 276.68 L625.04 275.27 L625.53 273.86 L626.03 272.45 L626.52 271.04 L627.01 269.62 L627.5 268.21 L627.98 266.79 L628.47 265.38 L628.96 263.97 L629.44 262.55 L629.93 261.13 L630.42 259.72 L630.91 258.31 L631.4 256.89 L631.9 255.48 L632.4 254.07 L632.9 252.66 L633.4 251.25 L633.91 249.84 L634.42 248.43 L634.93 247.02 L635.45 245.62 L635.96 244.21 L636.48 242.81 L637.01 241.4 L637.53 240 L638.05 238.59 L638.58 237.19 L639.11 235.79 L639.64 234.39 L640.17 232.99 L640.71 231.59 L641.24 230.19 L641.77 228.79 L642.31 227.39 L642.85 226 L643.39 224.6 L643.93 223.2 L644.46 221.81 L645 220.41 L645.54 219.02 L646.09 217.62 L646.63 216.23 L647.17 214.83 L647.71 213.44 L648.25 212.04 L648.79 210.65 L649.33 209.25 L649.87 207.86 L650.4 206.47 L650.94 205.07 L651.48 203.68 L652.01 202.29 L652.55 200.9 L653.08 199.5 L653.61 198.11 L654.14 196.72 L654.67 195.32 L655.2 193.93 L655.73 192.54 L656.25 191.14 L656.78 189.75 L657.3 188.35 L657.82 186.96 L658.34 185.56 L658.86 184.17 L659.38 182.77 L659.9 181.37 L660.41 179.97 L660.93 178.57 L661.44 177.16 L661.95 175.76 L662.47 174.35 L662.98 172.95 L663.49 171.54 L664 170.13 L664.51 168.71 L665.01 167.3 L665.52 165.88 L666.03 164.46 L666.54 163.04 L667.05 161.62 L667.56 160.2 L668.07 158.78 L668.59 157.37 L669.11 155.95 L669.64 154.54 L670.18 153.13 L670.72 151.73 L671.28 150.34 L671.84 148.94 L672.41 147.56 L673 146.19 L673.59 144.82 L674.2 143.46 L674.82 142.11 L675.46 140.77 L676.1 139.44 L676.76 138.12 L677.43 136.8 L678.1 135.49 L678.79 134.18 L679.49 132.88 L680.2 131.59 L680.92 130.3 L681.64 129.02 L682.38 127.74 L683.12 126.47 L683.87 125.2 L684.63 123.93 L685.4 122.67 L686.18 121.41 L686.96 120.15 L687.75 118.9 L688.54 117.65 L689.35 116.4 L690.15 115.15 L690.97 113.9 L691.78 112.65 L692.61 111.41 L693.43 110.16 L694.27 108.91 L695.1 107.66 L695.94 106.42 L696.79 105.17 L697.63 103.92 L698.48 102.66 L699.33 101.41 L700.19 100.15 L701.04 98.89 L701.9 97.63 L702.77 96.36 L703.63 95.1 L704.5 93.84 L705.38 92.58 L706.26 91.33 L707.14 90.08 L708.04 88.83 L708.94 87.59 L709.85 86.36 L710.76 85.14 L711.69 83.93 L712.62 82.73 L713.57 81.54 L714.52 80.37 L715.49 79.21 L716.47 78.06 L717.46 76.94 L718.46 75.82 L719.48 74.73 L720.51 73.66 L721.55 72.61 L722.62 71.58 L723.69 70.57 L724.78 69.58 L725.89 68.62 L727.02 67.69 L728.16 66.78 L729.33 65.9 L730.51 65.05 L731.71 64.24 L732.93 63.45 L734.18 62.69 L735.44 61.97 L736.73 61.28 L738.03 60.63 L739.36 60.01 L740.7 59.42 L742.07 58.87 L743.44 58.36 L744.84 57.87 L746.25 57.43 L747.67 57.01 L749.1 56.64 L750.55 56.29 L752 55.98 L753.46 55.71 L754.93 55.47 L756.41 55.27 L757.9 55.09 L759.39 54.95 L760.89 54.83 L762.39 54.74 L763.9 54.68 L765.41 54.64 L766.92 54.61 L768.44 54.61 L769.95 54.62 L771.47 54.65 L772.99 54.69 L774.52 54.74 L776.04 54.8 L777.56 54.87 L779.08 54.94 L780.6 55.01 L782.11 55.09 L783.63 55.17 L785.13 55.24 L786.64 55.32 L788.15 55.39 L789.65 55.45 L791.14 55.51 L792.64 55.56 L794.13 55.61 L795.63 55.65 L797.12 55.69 L798.6 55.71 L800.09 55.73 L801.58 55.73 L803.06 55.73 L804.54 55.72 L806.03 55.69 L807.51 55.65 L808.99 55.6 L810.47 55.53 L811.95 55.45 L813.43 55.35 L814.92 55.24 L816.4 55.11 L817.88 54.97 L819.37 54.8 L820.85 54.62 L822.34 54.42 L823.83 54.19 L825.32 53.95 L826.81 53.69 L828.3 53.4" fill="none" stroke="#000000" stroke-width="3.1" stroke-linejoin="round"/>
<path d="M585 336.4 L586.15 335.4 L587.26 334.38 L588.33 333.32 L589.35 332.24 L590.34 331.14 L591.3 330.01 L592.21 328.85 L593.1 327.67 L593.95 326.47 L594.76 325.25 L595.55 324.01 L596.31 322.75 L597.04 321.47 L597.74 320.18 L598.41 318.87 L599.06 317.54 L599.69 316.2 L600.3 314.84 L600.88 313.48 L601.45 312.1 L601.99 310.71 L602.52 309.31 L603.04 307.9 L603.54 306.48 L604.02 305.06 L604.49 303.63 L604.96 302.19 L605.41 300.75 L605.85 299.31 L606.29 297.87 L606.72 296.42 L607.14 294.97 L607.56 293.52 L607.98 292.08 L608.39 290.63 L608.8 289.18 L609.21 287.73 L609.61 286.28 L610 284.83 L610.4 283.39 L610.79 281.94 L611.17 280.49 L611.56 279.04 L611.94 277.59 L612.31 276.14 L612.68 274.69 L613.05 273.24 L613.42 271.78 L613.79 270.33 L614.15 268.88 L614.51 267.43 L614.86 265.98 L615.22 264.52 L615.57 263.07 L615.92 261.62 L616.26 260.16 L616.61 258.71 L616.95 257.26 L617.29 255.8 L617.63 254.35 L617.97 252.89 L618.3 251.44 L618.64 249.98 L618.97 248.53 L619.3 247.07 L619.63 245.61 L619.96 244.16 L620.29 242.7 L620.61 241.24 L620.94 239.78 L621.26 238.32 L621.59 236.87 L621.91 235.41 L622.24 233.95 L622.56 232.49 L622.88 231.03 L623.2 229.57 L623.52 228.11 L623.84 226.65 L624.16 225.18 L624.48 223.72 L624.8 222.26 L625.12 220.8 L625.44 219.34 L625.76 217.88 L626.08 216.42 L626.4 214.95 L626.72 213.49 L627.04 212.03 L627.36 210.57 L627.68 209.11 L628 207.64 L628.32 206.18 L628.64 204.72 L628.96 203.26 L629.28 201.8 L629.6 200.33 L629.93 198.87 L630.25 197.41 L630.58 195.95 L630.9 194.49 L631.23 193.03 L631.55 191.56 L631.88 190.1 L632.21 188.64 L632.54 187.18 L632.87 185.72 L633.2 184.26 L633.53 182.8 L633.87 181.34 L634.2 179.88 L634.54 178.42 L634.88 176.96 L635.22 175.51 L635.56 174.05 L635.9 172.59 L636.24 171.13 L636.59 169.68 L636.94 168.22 L637.29 166.76 L637.64 165.31 L637.99 163.85 L638.34 162.4 L638.7 160.95 L639.06 159.49 L639.42 158.04 L639.78 156.59 L640.14 155.13 L640.51 153.68 L640.88 152.23 L641.25 150.78 L641.63 149.33 L642 147.88 L642.38 146.44 L642.76 144.99 L643.14 143.54 L643.53 142.1 L643.92 140.65 L644.31 139.21 L644.7 137.76 L645.1 136.32 L645.5 134.88 L645.9 133.44 L646.31 132 L646.72 130.56 L647.13 129.12 L647.54 127.68 L647.96 126.24 L648.38 124.81 L648.81 123.37 L649.24 121.94 L649.67 120.5 L650.1 119.07 L650.54 117.64 L650.99 116.21 L651.44 114.79 L651.89 113.36 L652.36 111.94 L652.83 110.52 L653.31 109.11 L653.8 107.7 L654.3 106.29 L654.81 104.88 L655.33 103.49 L655.87 102.09 L656.41 100.7 L656.97 99.32 L657.54 97.94 L658.13 96.57 L658.73 95.2 L659.35 93.85 L659.98 92.49 L660.63 91.15 L661.3 89.81 L661.98 88.48 L662.68 87.16 L663.41 85.85 L664.15 84.54 L664.92 83.25 L665.7 81.96 L666.51 80.69 L667.34 79.42 L668.19 78.16 L669.07 76.92 L669.97 75.69 L670.89 74.48 L671.84 73.29 L672.81 72.12 L673.8 70.97 L674.81 69.85 L675.85 68.76 L676.91 67.69 L678 66.65 L679.1 65.65 L680.24 64.69 L681.39 63.76 L682.57 62.87 L683.77 62.02 L684.99 61.22 L686.24 60.46 L687.5 59.74 L688.79 59.07 L690.1 58.45 L691.43 57.86 L692.78 57.32 L694.14 56.83 L695.52 56.38 L696.92 55.97 L698.33 55.61 L699.75 55.28 L701.19 55 L702.64 54.74 L704.09 54.53 L705.56 54.34 L707.03 54.18 L708.51 54.06 L710 53.95 L711.49 53.87 L712.99 53.82 L714.5 53.78 L716 53.77 L717.52 53.76 L719.03 53.78 L720.55 53.81 L722.07 53.84 L723.59 53.89 L725.11 53.94 L726.64 54 L728.16 54.07 L729.68 54.13 L731.2 54.2 L732.73 54.26 L734.24 54.32 L735.76 54.37 L737.27 54.42 L738.78 54.45 L740.29 54.48 L741.79 54.51 L743.29 54.53 L744.79 54.54 L746.28 54.54 L747.78 54.54 L749.27 54.54 L750.76 54.53 L752.25 54.52 L753.74 54.51 L755.23 54.5 L756.71 54.48 L758.2 54.46 L759.69 54.44 L761.17 54.42 L762.66 54.4 L764.15 54.38 L765.63 54.36 L767.12 54.34 L768.61 54.32 L770.1 54.31 L771.59 54.3 L773.09 54.29 L774.58 54.28 L776.07 54.28 L777.57 54.28 L779.07 54.29 L780.56 54.3 L782.06 54.31 L783.56 54.33 L785.06 54.35 L786.56 54.38 L788.05 54.41 L789.55 54.45 L791.05 54.49 L792.55 54.54 L794.05 54.59 L795.55 54.66 L797.05 54.72 L798.55 54.8 L800.04 54.88 L801.54 54.96 L803.04 55.06 L804.53 55.16 L806.03 55.27 L807.52 55.39 L809.01 55.52 L810.51 55.65 L812 55.79 L813.49 55.95 L814.98 56.11 L816.46 56.28 L817.95 56.46 L819.43 56.65 L820.92 56.85 L822.4 57.06 L823.87 57.28 L825.35 57.51 L826.83 57.75 L828.3 58" fill="none" stroke="#2f57a6" stroke-width="2.9" stroke-linejoin="round"/>
<path d="M585 336.4 L585.88 335.18 L586.71 333.93 L587.52 332.67 L588.29 331.4 L589.03 330.11 L589.74 328.8 L590.41 327.49 L591.06 326.15 L591.69 324.81 L592.28 323.45 L592.85 322.09 L593.4 320.71 L593.92 319.32 L594.42 317.92 L594.91 316.51 L595.37 315.1 L595.81 313.67 L596.24 312.24 L596.65 310.8 L597.05 309.36 L597.43 307.91 L597.8 306.45 L598.16 305 L598.51 303.53 L598.85 302.07 L599.18 300.6 L599.51 299.13 L599.83 297.66 L600.15 296.19 L600.46 294.72 L600.77 293.25 L601.08 291.78 L601.38 290.31 L601.69 288.83 L601.99 287.36 L602.29 285.89 L602.58 284.42 L602.87 282.95 L603.17 281.48 L603.45 280.01 L603.74 278.54 L604.03 277.07 L604.31 275.6 L604.59 274.13 L604.87 272.66 L605.15 271.19 L605.43 269.72 L605.7 268.25 L605.98 266.78 L606.25 265.31 L606.52 263.84 L606.79 262.37 L607.06 260.89 L607.32 259.42 L607.59 257.95 L607.86 256.48 L608.12 255.01 L608.39 253.54 L608.65 252.07 L608.91 250.6 L609.18 249.12 L609.44 247.65 L609.7 246.18 L609.96 244.71 L610.22 243.24 L610.48 241.76 L610.74 240.29 L611.01 238.82 L611.27 237.35 L611.53 235.87 L611.79 234.4 L612.05 232.92 L612.31 231.45 L612.58 229.98 L612.84 228.5 L613.1 227.03 L613.37 225.55 L613.63 224.08 L613.89 222.6 L614.16 221.13 L614.42 219.65 L614.69 218.18 L614.95 216.7 L615.22 215.23 L615.48 213.75 L615.75 212.27 L616.01 210.8 L616.28 209.32 L616.54 207.85 L616.81 206.37 L617.08 204.89 L617.34 203.42 L617.61 201.94 L617.88 200.46 L618.14 198.99 L618.41 197.51 L618.67 196.04 L618.94 194.56 L619.21 193.08 L619.47 191.61 L619.74 190.13 L620 188.66 L620.27 187.18 L620.54 185.7 L620.8 184.23 L621.07 182.75 L621.33 181.28 L621.6 179.8 L621.86 178.33 L622.13 176.85 L622.39 175.38 L622.66 173.9 L622.92 172.43 L623.19 170.95 L623.45 169.48 L623.71 168 L623.98 166.53 L624.24 165.06 L624.5 163.58 L624.76 162.11 L625.03 160.64 L625.29 159.16 L625.56 157.69 L625.82 156.22 L626.09 154.75 L626.35 153.28 L626.62 151.81 L626.89 150.34 L627.17 148.87 L627.44 147.4 L627.72 145.94 L628 144.47 L628.29 143.01 L628.57 141.54 L628.86 140.08 L629.16 138.62 L629.45 137.15 L629.76 135.69 L630.06 134.24 L630.37 132.78 L630.69 131.32 L631.01 129.87 L631.33 128.41 L631.66 126.96 L632 125.51 L632.34 124.06 L632.69 122.61 L633.04 121.17 L633.41 119.72 L633.77 118.28 L634.15 116.84 L634.53 115.4 L634.92 113.96 L635.32 112.52 L635.72 111.09 L636.13 109.65 L636.55 108.22 L636.98 106.79 L637.41 105.36 L637.85 103.92 L638.3 102.49 L638.76 101.06 L639.23 99.62 L639.7 98.19 L640.18 96.75 L640.67 95.32 L641.17 93.88 L641.67 92.43 L642.18 90.99 L642.7 89.54 L643.23 88.09 L643.77 86.65 L644.33 85.2 L644.89 83.77 L645.48 82.34 L646.08 80.92 L646.7 79.52 L647.34 78.13 L648.01 76.76 L648.7 75.41 L649.41 74.08 L650.15 72.78 L650.93 71.5 L651.73 70.26 L652.57 69.05 L653.44 67.87 L654.35 66.74 L655.29 65.64 L656.27 64.58 L657.28 63.57 L658.33 62.6 L659.42 61.69 L660.54 60.82 L661.69 60.01 L662.88 59.25 L664.1 58.54 L665.35 57.89 L666.63 57.28 L667.94 56.73 L669.28 56.23 L670.63 55.78 L672.02 55.38 L673.42 55.03 L674.84 54.72 L676.28 54.46 L677.74 54.23 L679.21 54.04 L680.7 53.89 L682.2 53.76 L683.71 53.66 L685.23 53.58 L686.75 53.53 L688.29 53.49 L689.82 53.47 L691.36 53.45 L692.9 53.45 L694.44 53.45 L695.97 53.46 L697.51 53.46 L699.04 53.47 L700.56 53.47 L702.09 53.48 L703.61 53.49 L705.13 53.5 L706.65 53.51 L708.16 53.52 L709.67 53.53 L711.18 53.54 L712.69 53.55 L714.2 53.56 L715.7 53.58 L717.2 53.59 L718.7 53.6 L720.2 53.61 L721.7 53.63 L723.19 53.64 L724.69 53.65 L726.18 53.67 L727.67 53.68 L729.17 53.69 L730.66 53.71 L732.14 53.72 L733.63 53.73 L735.12 53.74 L736.61 53.76 L738.1 53.77 L739.58 53.78 L741.07 53.79 L742.55 53.8 L744.04 53.81 L745.53 53.82 L747.01 53.83 L748.5 53.84 L749.99 53.85 L751.47 53.86 L752.96 53.87 L754.45 53.87 L755.94 53.88 L757.43 53.88 L758.92 53.89 L760.41 53.89 L761.9 53.89 L763.4 53.89 L764.89 53.89 L766.39 53.89 L767.89 53.89 L769.39 53.89 L770.89 53.88 L772.39 53.88 L773.9 53.87 L775.4 53.87 L776.91 53.87 L778.42 53.87 L779.92 53.88 L781.43 53.89 L782.94 53.9 L784.44 53.92 L785.95 53.95 L787.46 53.99 L788.96 54.04 L790.46 54.09 L791.96 54.16 L793.46 54.24 L794.96 54.33 L796.46 54.44 L797.95 54.56 L799.44 54.7 L800.93 54.85 L802.41 55.02 L803.89 55.2 L805.37 55.41 L806.84 55.64 L808.31 55.88 L809.77 56.15 L811.23 56.44 L812.69 56.75 L814.14 57.09 L815.58 57.46 L817.02 57.84 L818.45 58.26 L819.88 58.7 L821.3 59.18 L822.71 59.68 L824.12 60.21 L825.52 60.78 L826.91 61.37 L828.3 62" fill="none" stroke="#ec2a3a" stroke-width="2.9" stroke-linejoin="round"/>
</g>
<path d="M151.22 336.4V331.2" stroke="#000" stroke-width="1.7"/>
<path d="M151.22 50V55.2" stroke="#000" stroke-width="1.7"/>
<path d="M205.44 336.4V326.4" stroke="#000" stroke-width="1.7"/>
<path d="M205.44 50V60" stroke="#000" stroke-width="1.7"/>
<path d="M259.67 336.4V331.2" stroke="#000" stroke-width="1.7"/>
<path d="M259.67 50V55.2" stroke="#000" stroke-width="1.7"/>
<path d="M313.89 336.4V326.4" stroke="#000" stroke-width="1.7"/>
<path d="M313.89 50V60" stroke="#000" stroke-width="1.7"/>
<path d="M97 307.76H102.2" stroke="#000" stroke-width="1.7"/>
<path d="M97 279.12H107" stroke="#000" stroke-width="1.7"/>
<path d="M97 250.48H102.2" stroke="#000" stroke-width="1.7"/>
<path d="M97 221.84H107" stroke="#000" stroke-width="1.7"/>
<path d="M97 193.2H102.2" stroke="#000" stroke-width="1.7"/>
<path d="M341 193.2H335.8" stroke="#000" stroke-width="1.7"/>
<path d="M97 164.56H107" stroke="#000" stroke-width="1.7"/>
<path d="M341 164.56H331" stroke="#000" stroke-width="1.7"/>
<path d="M97 135.92H102.2" stroke="#000" stroke-width="1.7"/>
<path d="M341 135.92H335.8" stroke="#000" stroke-width="1.7"/>
<path d="M97 107.28H107" stroke="#000" stroke-width="1.7"/>
<path d="M341 107.28H331" stroke="#000" stroke-width="1.7"/>
<path d="M97 78.64H102.2" stroke="#000" stroke-width="1.7"/>
<path d="M341 78.64H335.8" stroke="#000" stroke-width="1.7"/>
<path d="M395.22 336.4V331.2" stroke="#000" stroke-width="1.7"/>
<path d="M395.22 50V55.2" stroke="#000" stroke-width="1.7"/>
<path d="M449.44 336.4V326.4" stroke="#000" stroke-width="1.7"/>
<path d="M449.44 50V60" stroke="#000" stroke-width="1.7"/>
<path d="M503.67 336.4V331.2" stroke="#000" stroke-width="1.7"/>
<path d="M503.67 50V55.2" stroke="#000" stroke-width="1.7"/>
<path d="M557.89 336.4V326.4" stroke="#000" stroke-width="1.7"/>
<path d="M557.89 50V60" stroke="#000" stroke-width="1.7"/>
<path d="M341 307.76H346.2" stroke="#000" stroke-width="1.7"/>
<path d="M585 307.76H579.8" stroke="#000" stroke-width="1.7"/>
<path d="M341 279.12H351" stroke="#000" stroke-width="1.7"/>
<path d="M585 279.12H575" stroke="#000" stroke-width="1.7"/>
<path d="M341 250.48H346.2" stroke="#000" stroke-width="1.7"/>
<path d="M585 250.48H579.8" stroke="#000" stroke-width="1.7"/>
<path d="M341 221.84H351" stroke="#000" stroke-width="1.7"/>
<path d="M585 221.84H575" stroke="#000" stroke-width="1.7"/>
<path d="M341 193.2H346.2" stroke="#000" stroke-width="1.7"/>
<path d="M585 193.2H579.8" stroke="#000" stroke-width="1.7"/>
<path d="M341 164.56H351" stroke="#000" stroke-width="1.7"/>
<path d="M585 164.56H575" stroke="#000" stroke-width="1.7"/>
<path d="M341 135.92H346.2" stroke="#000" stroke-width="1.7"/>
<path d="M585 135.92H579.8" stroke="#000" stroke-width="1.7"/>
<path d="M341 107.28H351" stroke="#000" stroke-width="1.7"/>
<path d="M585 107.28H575" stroke="#000" stroke-width="1.7"/>
<path d="M341 78.64H346.2" stroke="#000" stroke-width="1.7"/>
<path d="M585 78.64H579.8" stroke="#000" stroke-width="1.7"/>
<path d="M639.07 336.4V331.2" stroke="#000" stroke-width="1.7"/>
<path d="M639.07 50V55.2" stroke="#000" stroke-width="1.7"/>
<path d="M693.13 336.4V326.4" stroke="#000" stroke-width="1.7"/>
<path d="M693.13 50V60" stroke="#000" stroke-width="1.7"/>
<path d="M747.2 50V55.2" stroke="#000" stroke-width="1.7"/>
<path d="M801.27 50V60" stroke="#000" stroke-width="1.7"/>
<path d="M585 307.76H590.2" stroke="#000" stroke-width="1.7"/>
<path d="M585 279.12H595" stroke="#000" stroke-width="1.7"/>
<path d="M585 250.48H590.2" stroke="#000" stroke-width="1.7"/>
<path d="M585 221.84H595" stroke="#000" stroke-width="1.7"/>
<path d="M585 193.2H590.2" stroke="#000" stroke-width="1.7"/>
<path d="M585 164.56H595" stroke="#000" stroke-width="1.7"/>
<path d="M828.3 164.56H818.3" stroke="#000" stroke-width="1.7"/>
<path d="M585 135.92H590.2" stroke="#000" stroke-width="1.7"/>
<path d="M828.3 135.92H823.1" stroke="#000" stroke-width="1.7"/>
<path d="M585 107.28H595" stroke="#000" stroke-width="1.7"/>
<path d="M828.3 107.28H818.3" stroke="#000" stroke-width="1.7"/>
<path d="M585 78.64H590.2" stroke="#000" stroke-width="1.7"/>
<path d="M828.3 78.64H823.1" stroke="#000" stroke-width="1.7"/>
<rect x="97" y="50" width="731.3" height="286.4" fill="none" stroke="#000" stroke-width="2.2"/>
<path d="M341 50V336.4" stroke="#000" stroke-width="2.2"/>
<path d="M585 50V336.4" stroke="#000" stroke-width="2.2"/>
<g>
<circle cx="135.1" cy="270.4" r="5.05" fill="#000000"/>
<circle cx="141.7" cy="253.2" r="5.05" fill="#000000"/>
<circle cx="148.8" cy="234.9" r="5.05" fill="#000000"/>
<circle cx="156.4" cy="216" r="5.05" fill="#000000"/>
<circle cx="164.3" cy="196.9" r="5.05" fill="#000000"/>
<circle cx="172.8" cy="175.5" r="5.05" fill="#000000"/>
<circle cx="181.7" cy="157" r="5.05" fill="#000000"/>
<circle cx="190.7" cy="141.3" r="5.05" fill="#000000"/>
<circle cx="200.4" cy="128.2" r="5.05" fill="#000000"/>
<circle cx="210.3" cy="110.4" r="5.05" fill="#000000"/>
<circle cx="220.3" cy="96.6" r="5.05" fill="#000000"/>
<circle cx="231.1" cy="89" r="5.05" fill="#000000"/>
<circle cx="242.1" cy="86.2" r="5.05" fill="#000000"/>
<circle cx="253.3" cy="84.6" r="5.05" fill="#000000"/>
<circle cx="264.4" cy="86.3" r="5.05" fill="#000000"/>
<circle cx="275.6" cy="94.8" r="5.05" fill="#000000"/>
<circle cx="286.8" cy="102.3" r="5.05" fill="#000000"/>
<circle cx="298.2" cy="111.6" r="5.05" fill="#000000"/>
<circle cx="310" cy="122.4" r="5.05" fill="#000000"/>
<circle cx="321.7" cy="134.5" r="5.05" fill="#000000"/>
<rect x="130.15" y="232.25" width="9.9" height="9.9" fill="#2f57a6"/>
<rect x="136.75" y="208.05" width="9.9" height="9.9" fill="#2f57a6"/>
<rect x="143.85" y="183.95" width="9.9" height="9.9" fill="#2f57a6"/>
<rect x="151.45" y="160.05" width="9.9" height="9.9" fill="#2f57a6"/>
<rect x="159.35" y="138.35" width="9.9" height="9.9" fill="#2f57a6"/>
<rect x="167.85" y="115.85" width="9.9" height="9.9" fill="#2f57a6"/>
<rect x="176.75" y="96.85" width="9.9" height="9.9" fill="#2f57a6"/>
<rect x="185.75" y="80.15" width="9.9" height="9.9" fill="#2f57a6"/>
<rect x="195.45" y="70.35" width="9.9" height="9.9" fill="#2f57a6"/>
<rect x="205.35" y="65.55" width="9.9" height="9.9" fill="#2f57a6"/>
<rect x="215.35" y="67.65" width="9.9" height="9.9" fill="#2f57a6"/>
<rect x="226.15" y="71.25" width="9.9" height="9.9" fill="#2f57a6"/>
<rect x="237.15" y="76.65" width="9.9" height="9.9" fill="#2f57a6"/>
<rect x="248.35" y="84.05" width="9.9" height="9.9" fill="#2f57a6"/>
<rect x="259.45" y="91.65" width="9.9" height="9.9" fill="#2f57a6"/>
<rect x="270.65" y="94.35" width="9.9" height="9.9" fill="#2f57a6"/>
<rect x="281.85" y="100.55" width="9.9" height="9.9" fill="#2f57a6"/>
<rect x="293.25" y="108.95" width="9.9" height="9.9" fill="#2f57a6"/>
<rect x="305.05" y="117.85" width="9.9" height="9.9" fill="#2f57a6"/>
<rect x="316.75" y="124.85" width="9.9" height="9.9" fill="#2f57a6"/>
<path d="M135.1 161.75 L140.7 172.25 L129.5 172.25Z" fill="#ec2a3a"/>
<path d="M141.7 131.75 L147.3 142.25 L136.1 142.25Z" fill="#ec2a3a"/>
<path d="M148.8 104.75 L154.4 115.25 L143.2 115.25Z" fill="#ec2a3a"/>
<path d="M156.4 85.45 L162 95.95 L150.8 95.95Z" fill="#ec2a3a"/>
<path d="M164.3 68.25 L169.9 78.75 L158.7 78.75Z" fill="#ec2a3a"/>
<path d="M172.8 57.75 L178.4 68.25 L167.2 68.25Z" fill="#ec2a3a"/>
<path d="M181.7 57.05 L187.3 67.55 L176.1 67.55Z" fill="#ec2a3a"/>
<path d="M190.7 58.95 L196.3 69.45 L185.1 69.45Z" fill="#ec2a3a"/>
<path d="M200.4 61.45 L206 71.95 L194.8 71.95Z" fill="#ec2a3a"/>
<path d="M210.3 66.55 L215.9 77.05 L204.7 77.05Z" fill="#ec2a3a"/>
<path d="M220.3 79.85 L225.9 90.35 L214.7 90.35Z" fill="#ec2a3a"/>
<path d="M231.1 92.35 L236.7 102.85 L225.5 102.85Z" fill="#ec2a3a"/>
<path d="M242.1 99.55 L247.7 110.05 L236.5 110.05Z" fill="#ec2a3a"/>
<path d="M253.3 108.95 L258.9 119.45 L247.7 119.45Z" fill="#ec2a3a"/>
<path d="M264.4 119.75 L270 130.25 L258.8 130.25Z" fill="#ec2a3a"/>
<path d="M275.6 128.15 L281.2 138.65 L270 138.65Z" fill="#ec2a3a"/>
<path d="M286.8 131.25 L292.4 141.75 L281.2 141.75Z" fill="#ec2a3a"/>
<path d="M298.2 139.85 L303.8 150.35 L292.6 150.35Z" fill="#ec2a3a"/>
<path d="M310 143.55 L315.6 154.05 L304.4 154.05Z" fill="#ec2a3a"/>
<path d="M321.7 147.55 L327.3 158.05 L316.1 158.05Z" fill="#ec2a3a"/>
<path d="M109.3 263.6 L113.65 269.8 L109.3 276 L104.95 269.8Z" fill="#8cd51c"/>
<path d="M112.6 228.7 L116.95 234.9 L112.6 241.1 L108.25 234.9Z" fill="#8cd51c"/>
<path d="M117.8 186.4 L122.15 192.6 L117.8 198.8 L113.45 192.6Z" fill="#8cd51c"/>
<path d="M123.2 147.4 L127.55 153.6 L123.2 159.8 L118.85 153.6Z" fill="#8cd51c"/>
<path d="M128.9 110.8 L133.25 117 L128.9 123.2 L124.55 117Z" fill="#8cd51c"/>
<path d="M135.1 84.3 L139.45 90.5 L135.1 96.7 L130.75 90.5Z" fill="#8cd51c"/>
<path d="M141.7 60.9 L146.05 67.1 L141.7 73.3 L137.35 67.1Z" fill="#8cd51c"/>
<path d="M148.8 56.4 L153.15 62.6 L148.8 68.8 L144.45 62.6Z" fill="#8cd51c"/>
<path d="M156.4 55.1 L160.75 61.3 L156.4 67.5 L152.05 61.3Z" fill="#8cd51c"/>
<path d="M164.3 59.5 L168.65 65.7 L164.3 71.9 L159.95 65.7Z" fill="#8cd51c"/>
<path d="M172.8 67.6 L177.15 73.8 L172.8 80 L168.45 73.8Z" fill="#8cd51c"/>
<path d="M181.7 68.3 L186.05 74.5 L181.7 80.7 L177.35 74.5Z" fill="#8cd51c"/>
<path d="M190.7 72 L195.05 78.2 L190.7 84.4 L186.35 78.2Z" fill="#8cd51c"/>
<path d="M200.4 85.3 L204.75 91.5 L200.4 97.7 L196.05 91.5Z" fill="#8cd51c"/>
<path d="M210.3 92.6 L214.65 98.8 L210.3 105 L205.95 98.8Z" fill="#8cd51c"/>
<path d="M220.3 101.7 L224.65 107.9 L220.3 114.1 L215.95 107.9Z" fill="#8cd51c"/>
<path d="M231.1 116.1 L235.45 122.3 L231.1 128.5 L226.75 122.3Z" fill="#8cd51c"/>
<path d="M242.1 127.2 L246.45 133.4 L242.1 139.6 L237.75 133.4Z" fill="#8cd51c"/>
<path d="M253.3 133.3 L257.65 139.5 L253.3 145.7 L248.95 139.5Z" fill="#8cd51c"/>
<path d="M264.4 139.5 L268.75 145.7 L264.4 151.9 L260.05 145.7Z" fill="#8cd51c"/>
</g>
<g>
<circle cx="379.1" cy="271.3" r="5.05" fill="#000000"/>
<circle cx="385.7" cy="254.8" r="5.05" fill="#000000"/>
<circle cx="392.8" cy="231.4" r="5.05" fill="#000000"/>
<circle cx="400.4" cy="212.6" r="5.05" fill="#000000"/>
<circle cx="408.3" cy="189.8" r="5.05" fill="#000000"/>
<circle cx="416.8" cy="169" r="5.05" fill="#000000"/>
<circle cx="425.7" cy="147.9" r="5.05" fill="#000000"/>
<circle cx="434.7" cy="127.7" r="5.05" fill="#000000"/>
<circle cx="444.4" cy="112.7" r="5.05" fill="#000000"/>
<circle cx="454.3" cy="92.5" r="5.05" fill="#000000"/>
<circle cx="464.3" cy="81.7" r="5.05" fill="#000000"/>
<circle cx="475.1" cy="72" r="5.05" fill="#000000"/>
<circle cx="486.1" cy="65.5" r="5.05" fill="#000000"/>
<circle cx="497.3" cy="61.5" r="5.05" fill="#000000"/>
<circle cx="508.4" cy="63.8" r="5.05" fill="#000000"/>
<circle cx="519.6" cy="62.9" r="5.05" fill="#000000"/>
<circle cx="530.8" cy="64.3" r="5.05" fill="#000000"/>
<circle cx="542.2" cy="65.3" r="5.05" fill="#000000"/>
<circle cx="554" cy="66.3" r="5.05" fill="#000000"/>
<circle cx="565.7" cy="65.8" r="5.05" fill="#000000"/>
<rect x="374.15" y="260.65" width="9.9" height="9.9" fill="#2f57a6"/>
<rect x="380.75" y="236.45" width="9.9" height="9.9" fill="#2f57a6"/>
<rect x="387.85" y="201.35" width="9.9" height="9.9" fill="#2f57a6"/>
<rect x="395.45" y="179.15" width="9.9" height="9.9" fill="#2f57a6"/>
<rect x="403.35" y="150.65" width="9.9" height="9.9" fill="#2f57a6"/>
<rect x="411.85" y="116.05" width="9.9" height="9.9" fill="#2f57a6"/>
<rect x="420.75" y="90.45" width="9.9" height="9.9" fill="#2f57a6"/>
<rect x="429.75" y="75.75" width="9.9" height="9.9" fill="#2f57a6"/>
<rect x="439.45" y="61.95" width="9.9" height="9.9" fill="#2f57a6"/>
<rect x="449.35" y="58.05" width="9.9" height="9.9" fill="#2f57a6"/>
<rect x="459.35" y="54.35" width="9.9" height="9.9" fill="#2f57a6"/>
<rect x="470.15" y="58.05" width="9.9" height="9.9" fill="#2f57a6"/>
<rect x="481.15" y="54.35" width="9.9" height="9.9" fill="#2f57a6"/>
<rect x="492.35" y="59.05" width="9.9" height="9.9" fill="#2f57a6"/>
<rect x="503.45" y="61.25" width="9.9" height="9.9" fill="#2f57a6"/>
<rect x="514.65" y="65.65" width="9.9" height="9.9" fill="#2f57a6"/>
<rect x="525.85" y="67.55" width="9.9" height="9.9" fill="#2f57a6"/>
<rect x="537.25" y="73.15" width="9.9" height="9.9" fill="#2f57a6"/>
<rect x="549.05" y="73.65" width="9.9" height="9.9" fill="#2f57a6"/>
<rect x="560.75" y="74.25" width="9.9" height="9.9" fill="#2f57a6"/>
<path d="M379.1 157.45 L384.7 167.95 L373.5 167.95Z" fill="#ec2a3a"/>
<path d="M385.7 126.95 L391.3 137.45 L380.1 137.45Z" fill="#ec2a3a"/>
<path d="M392.8 100.55 L398.4 111.05 L387.2 111.05Z" fill="#ec2a3a"/>
<path d="M400.4 79.65 L406 90.15 L394.8 90.15Z" fill="#ec2a3a"/>
<path d="M408.3 62.55 L413.9 73.05 L402.7 73.05Z" fill="#ec2a3a"/>
<path d="M416.8 53.25 L422.4 63.75 L411.2 63.75Z" fill="#ec2a3a"/>
<path d="M425.7 49.75 L431.3 60.25 L420.1 60.25Z" fill="#ec2a3a"/>
<path d="M434.7 49.25 L440.3 59.75 L429.1 59.75Z" fill="#ec2a3a"/>
<path d="M444.4 48.35 L450 58.85 L438.8 58.85Z" fill="#ec2a3a"/>
<path d="M454.3 51.55 L459.9 62.05 L448.7 62.05Z" fill="#ec2a3a"/>
<path d="M464.3 54.95 L469.9 65.45 L458.7 65.45Z" fill="#ec2a3a"/>
<path d="M475.1 56.85 L480.7 67.35 L469.5 67.35Z" fill="#ec2a3a"/>
<path d="M486.1 58.75 L491.7 69.25 L480.5 69.25Z" fill="#ec2a3a"/>
<path d="M497.3 60.65 L502.9 71.15 L491.7 71.15Z" fill="#ec2a3a"/>
<path d="M508.4 62.45 L514 72.95 L502.8 72.95Z" fill="#ec2a3a"/>
<path d="M519.6 63.85 L525.2 74.35 L514 74.35Z" fill="#ec2a3a"/>
<path d="M530.8 62.95 L536.4 73.45 L525.2 73.45Z" fill="#ec2a3a"/>
<path d="M542.2 58.15 L547.8 68.65 L536.6 68.65Z" fill="#ec2a3a"/>
<path d="M554 57.15 L559.6 67.65 L548.4 67.65Z" fill="#ec2a3a"/>
<path d="M565.7 58.15 L571.3 68.65 L560.1 68.65Z" fill="#ec2a3a"/>
<path d="M353.3 268.5 L357.65 274.7 L353.3 280.9 L348.95 274.7Z" fill="#8cd51c"/>
<path d="M356.6 234.3 L360.95 240.5 L356.6 246.7 L352.25 240.5Z" fill="#8cd51c"/>
<path d="M361.8 192.2 L366.15 198.4 L361.8 204.6 L357.45 198.4Z" fill="#8cd51c"/>
<path d="M367.2 150 L371.55 156.2 L367.2 162.4 L362.85 156.2Z" fill="#8cd51c"/>
<path d="M372.9 113.1 L377.25 119.3 L372.9 125.5 L368.55 119.3Z" fill="#8cd51c"/>
<path d="M379.1 81.6 L383.45 87.8 L379.1 94 L374.75 87.8Z" fill="#8cd51c"/>
<path d="M385.7 59.3 L390.05 65.5 L385.7 71.7 L381.35 65.5Z" fill="#8cd51c"/>
<path d="M392.8 49.3 L397.15 55.5 L392.8 61.7 L388.45 55.5Z" fill="#8cd51c"/>
<path d="M400.4 46.8 L404.75 53 L400.4 59.2 L396.05 53Z" fill="#8cd51c"/>
<path d="M408.3 49.3 L412.65 55.5 L408.3 61.7 L403.95 55.5Z" fill="#8cd51c"/>
<path d="M416.8 47.4 L421.15 53.6 L416.8 59.8 L412.45 53.6Z" fill="#8cd51c"/>
<path d="M425.7 51.2 L430.05 57.4 L425.7 63.6 L421.35 57.4Z" fill="#8cd51c"/>
<path d="M434.7 52.7 L439.05 58.9 L434.7 65.1 L430.35 58.9Z" fill="#8cd51c"/>
<path d="M444.4 53.6 L448.75 59.8 L444.4 66 L440.05 59.8Z" fill="#8cd51c"/>
<path d="M454.3 57.8 L458.65 64 L454.3 70.2 L449.95 64Z" fill="#8cd51c"/>
<path d="M464.3 59.3 L468.65 65.5 L464.3 71.7 L459.95 65.5Z" fill="#8cd51c"/>
<path d="M475.1 60.5 L479.45 66.7 L475.1 72.9 L470.75 66.7Z" fill="#8cd51c"/>
<path d="M486.1 59.6 L490.45 65.8 L486.1 72 L481.75 65.8Z" fill="#8cd51c"/>
<path d="M497.3 60.1 L501.65 66.3 L497.3 72.5 L492.95 66.3Z" fill="#8cd51c"/>
<path d="M508.4 62.9 L512.75 69.1 L508.4 75.3 L504.05 69.1Z" fill="#8cd51c"/>
</g>
<g>
<circle cx="623" cy="272.9" r="5.05" fill="#000000"/>
<circle cx="629.58" cy="257.2" r="5.05" fill="#000000"/>
<circle cx="636.67" cy="236.4" r="5.05" fill="#000000"/>
<circle cx="644.25" cy="220" r="5.05" fill="#000000"/>
<circle cx="652.13" cy="199.8" r="5.05" fill="#000000"/>
<circle cx="660.6" cy="179.2" r="5.05" fill="#000000"/>
<circle cx="669.48" cy="160.5" r="5.05" fill="#000000"/>
<circle cx="678.46" cy="144.8" r="5.05" fill="#000000"/>
<circle cx="688.13" cy="125.4" r="5.05" fill="#000000"/>
<circle cx="698.01" cy="107.8" r="5.05" fill="#000000"/>
<circle cx="707.98" cy="94.5" r="5.05" fill="#000000"/>
<circle cx="718.75" cy="79.5" r="5.05" fill="#000000"/>
<circle cx="729.73" cy="73.1" r="5.05" fill="#000000"/>
<circle cx="740.9" cy="69.5" r="5.05" fill="#000000"/>
<circle cx="751.97" cy="63.5" r="5.05" fill="#000000"/>
<circle cx="763.14" cy="62.4" r="5.05" fill="#000000"/>
<circle cx="774.31" cy="58.2" r="5.05" fill="#000000"/>
<circle cx="785.68" cy="59.7" r="5.05" fill="#000000"/>
<circle cx="797.45" cy="57.6" r="5.05" fill="#000000"/>
<circle cx="809.12" cy="61.6" r="5.05" fill="#000000"/>
<rect x="618.05" y="224.85" width="9.9" height="9.9" fill="#2f57a6"/>
<rect x="624.63" y="198.35" width="9.9" height="9.9" fill="#2f57a6"/>
<rect x="631.72" y="171.45" width="9.9" height="9.9" fill="#2f57a6"/>
<rect x="639.3" y="150.25" width="9.9" height="9.9" fill="#2f57a6"/>
<rect x="647.18" y="124.15" width="9.9" height="9.9" fill="#2f57a6"/>
<rect x="655.65" y="99.75" width="9.9" height="9.9" fill="#2f57a6"/>
<rect x="664.53" y="83.75" width="9.9" height="9.9" fill="#2f57a6"/>
<rect x="673.51" y="68.85" width="9.9" height="9.9" fill="#2f57a6"/>
<rect x="683.18" y="58.85" width="9.9" height="9.9" fill="#2f57a6"/>
<rect x="693.06" y="52.65" width="9.9" height="9.9" fill="#2f57a6"/>
<rect x="703.03" y="50.45" width="9.9" height="9.9" fill="#2f57a6"/>
<rect x="713.8" y="46.85" width="9.9" height="9.9" fill="#2f57a6"/>
<rect x="724.78" y="51.15" width="9.9" height="9.9" fill="#2f57a6"/>
<rect x="735.95" y="49.05" width="9.9" height="9.9" fill="#2f57a6"/>
<rect x="747.02" y="52.15" width="9.9" height="9.9" fill="#2f57a6"/>
<rect x="758.19" y="49.05" width="9.9" height="9.9" fill="#2f57a6"/>
<rect x="769.36" y="51.15" width="9.9" height="9.9" fill="#2f57a6"/>
<rect x="780.73" y="50.25" width="9.9" height="9.9" fill="#2f57a6"/>
<rect x="792.5" y="60.65" width="9.9" height="9.9" fill="#2f57a6"/>
<rect x="804.17" y="53.45" width="9.9" height="9.9" fill="#2f57a6"/>
<path d="M597.27 294.55 L602.87 305.05 L591.67 305.05Z" fill="#ec2a3a"/>
<path d="M600.56 273.05 L606.16 283.55 L594.96 283.55Z" fill="#ec2a3a"/>
<path d="M605.75 242.95 L611.35 253.45 L600.15 253.45Z" fill="#ec2a3a"/>
<path d="M611.13 214.05 L616.73 224.55 L605.53 224.55Z" fill="#ec2a3a"/>
<path d="M616.82 182.95 L622.42 193.45 L611.22 193.45Z" fill="#ec2a3a"/>
<path d="M623 154.55 L628.6 165.05 L617.4 165.05Z" fill="#ec2a3a"/>
<path d="M629.58 124.75 L635.18 135.25 L623.98 135.25Z" fill="#ec2a3a"/>
<path d="M636.67 94.05 L642.27 104.55 L631.07 104.55Z" fill="#ec2a3a"/>
<path d="M644.25 76.15 L649.85 86.65 L638.65 86.65Z" fill="#ec2a3a"/>
<path d="M652.13 60.55 L657.73 71.05 L646.53 71.05Z" fill="#ec2a3a"/>
<path d="M660.6 51.65 L666.2 62.15 L655 62.15Z" fill="#ec2a3a"/>
<path d="M669.48 46.45 L675.08 56.95 L663.88 56.95Z" fill="#ec2a3a"/>
<path d="M678.46 45.65 L684.06 56.15 L672.86 56.15Z" fill="#ec2a3a"/>
<path d="M688.13 45.65 L693.73 56.15 L682.53 56.15Z" fill="#ec2a3a"/>
<path d="M698.01 47.05 L703.61 57.55 L692.41 57.55Z" fill="#ec2a3a"/>
<path d="M707.98 47.25 L713.58 57.75 L702.38 57.75Z" fill="#ec2a3a"/>
<path d="M718.75 47.25 L724.35 57.75 L713.15 57.75Z" fill="#ec2a3a"/>
<path d="M729.73 47.25 L735.33 57.75 L724.13 57.75Z" fill="#ec2a3a"/>
<path d="M740.9 48.65 L746.5 59.15 L735.3 59.15Z" fill="#ec2a3a"/>
<path d="M751.97 47.95 L757.57 58.45 L746.37 58.45Z" fill="#ec2a3a"/>
<path d="M763.14 48.65 L768.74 59.15 L757.54 59.15Z" fill="#ec2a3a"/>
<path d="M774.31 48.65 L779.91 59.15 L768.71 59.15Z" fill="#ec2a3a"/>
<path d="M785.68 48.85 L791.28 59.35 L780.08 59.35Z" fill="#ec2a3a"/>
<path d="M797.45 50.35 L803.05 60.85 L791.85 60.85Z" fill="#ec2a3a"/>
<path d="M809.12 47.95 L814.72 58.45 L803.52 58.45Z" fill="#ec2a3a"/>
</g>
<rect x="183.2" y="200.7" width="157.8" height="128.2" fill="#fff"/>
<g clip-path="url(#cI)">
<path d="M183.35 329 L184.68 328.29 L185.95 327.52 L187.18 326.7 L188.36 325.82 L189.5 324.9 L190.61 323.93 L191.68 322.93 L192.73 321.89 L193.74 320.82 L194.74 319.72 L195.71 318.6 L196.67 317.47 L197.62 316.32 L198.55 315.16 L199.48 313.99 L200.4 312.81 L201.31 311.63 L202.21 310.43 L203.1 309.23 L203.98 308.02 L204.85 306.8 L205.71 305.58 L206.56 304.34 L207.4 303.1 L208.23 301.85 L209.06 300.6 L209.87 299.33 L210.67 298.07 L211.46 296.79 L212.24 295.51 L213.01 294.23 L213.77 292.94 L214.52 291.64 L215.26 290.34 L215.99 289.03 L216.71 287.72 L217.42 286.41 L218.12 285.09 L218.82 283.77 L219.5 282.45 L220.19 281.12 L220.86 279.79 L221.54 278.46 L222.21 277.13 L222.87 275.8 L223.54 274.46 L224.2 273.13 L224.86 271.8 L225.52 270.46 L226.18 269.13 L226.84 267.8 L227.51 266.47 L228.17 265.15 L228.84 263.82 L229.52 262.5 L230.2 261.18 L230.88 259.86 L231.57 258.55 L232.27 257.24 L232.98 255.94 L233.69 254.64 L234.42 253.35 L235.15 252.06 L235.89 250.78 L236.65 249.51 L237.42 248.24 L238.2 246.98 L238.99 245.72 L239.8 244.48 L240.62 243.24 L241.46 242.01 L242.31 240.79 L243.18 239.58 L244.07 238.38 L244.96 237.19 L245.88 236 L246.81 234.82 L247.75 233.66 L248.7 232.5 L249.67 231.35 L250.65 230.21 L251.64 229.07 L252.64 227.95 L253.65 226.83 L254.68 225.73 L255.71 224.63 L256.76 223.54 L257.82 222.46 L258.88 221.39 L259.95 220.32 L261.04 219.27 L262.13 218.22 L263.23 217.19 L264.34 216.17 L265.47 215.17 L266.6 214.2 L267.75 213.25 L268.92 212.32 L270.09 211.43 L271.29 210.57 L272.5 209.74 L273.73 208.95 L274.98 208.2 L276.25 207.5 L277.54 206.84 L278.85 206.24 L280.18 205.68 L281.53 205.18 L282.91 204.74 L284.31 204.35 L285.73 204.01 L287.17 203.71 L288.62 203.46 L290.09 203.26 L291.57 203.09 L293.07 202.95 L294.57 202.84 L296.09 202.77 L297.61 202.72 L299.13 202.69 L300.67 202.68 L302.2 202.68 L303.73 202.7 L305.26 202.73 L306.8 202.76 L308.32 202.8 L309.84 202.83 L311.35 202.87 L312.86 202.9 L314.36 202.93 L315.85 202.95 L317.34 202.97 L318.83 202.98 L320.31 203 L321.79 203.01 L323.26 203.01 L324.74 203.02 L326.21 203.02 L327.69 203.02 L329.16 203.01 L330.64 203.01 L332.12 203 L333.61 202.99 L335.1 202.97 L336.59 202.96 L338.09 202.94 L339.59 202.92 L341.11 202.9" fill="none" stroke="#000000" stroke-width="3" stroke-linejoin="round"/>
<path d="M183.35 329 L184.41 327.95 L185.42 326.87 L186.39 325.76 L187.33 324.62 L188.23 323.45 L189.11 322.26 L189.95 321.04 L190.76 319.81 L191.54 318.55 L192.3 317.27 L193.04 315.98 L193.76 314.67 L194.46 313.35 L195.15 312.02 L195.82 310.67 L196.48 309.32 L197.13 307.97 L197.77 306.61 L198.4 305.25 L199.03 303.88 L199.66 302.52 L200.28 301.16 L200.91 299.79 L201.53 298.43 L202.14 297.07 L202.75 295.7 L203.35 294.34 L203.94 292.97 L204.52 291.6 L205.1 290.23 L205.66 288.86 L206.22 287.48 L206.76 286.09 L207.29 284.71 L207.8 283.31 L208.3 281.92 L208.78 280.51 L209.25 279.1 L209.7 277.69 L210.13 276.26 L210.55 274.83 L210.95 273.4 L211.35 271.96 L211.73 270.52 L212.11 269.08 L212.49 267.64 L212.86 266.19 L213.24 264.75 L213.62 263.31 L214.01 261.88 L214.4 260.44 L214.81 259.02 L215.24 257.6 L215.68 256.19 L216.14 254.78 L216.62 253.39 L217.12 252 L217.64 250.62 L218.18 249.25 L218.73 247.88 L219.3 246.52 L219.89 245.16 L220.49 243.81 L221.1 242.46 L221.72 241.11 L222.35 239.76 L222.99 238.41 L223.64 237.05 L224.3 235.7 L224.96 234.35 L225.63 232.99 L226.3 231.62 L226.97 230.25 L227.65 228.88 L228.33 227.51 L229.02 226.14 L229.72 224.78 L230.44 223.43 L231.18 222.09 L231.94 220.78 L232.73 219.49 L233.54 218.23 L234.39 217 L235.27 215.8 L236.18 214.65 L237.14 213.54 L238.14 212.47 L239.18 211.45 L240.26 210.49 L241.37 209.57 L242.52 208.71 L243.71 207.91 L244.93 207.17 L246.18 206.48 L247.46 205.86 L248.77 205.3 L250.11 204.81 L251.48 204.38 L252.87 204.01 L254.29 203.7 L255.72 203.43 L257.18 203.21 L258.65 203.04 L260.13 202.9 L261.63 202.8 L263.14 202.73 L264.66 202.69 L266.19 202.67 L267.73 202.67 L269.26 202.68 L270.8 202.71 L272.34 202.74 L273.88 202.77 L275.42 202.81 L276.95 202.84 L278.47 202.87 L279.99 202.9 L281.51 202.92 L283.02 202.94 L284.52 202.95 L286.03 202.97 L287.53 202.98 L289.03 202.99 L290.52 202.99 L292.01 203 L293.5 203 L294.99 203 L296.47 203 L297.95 202.99 L299.43 202.99 L300.91 202.98 L302.39 202.98 L303.87 202.97 L305.34 202.96 L306.82 202.95 L308.29 202.94 L309.77 202.93 L311.24 202.92 L312.72 202.91 L314.19 202.9 L315.67 202.89 L317.15 202.88 L318.63 202.87 L320.11 202.86 L321.59 202.86 L323.07 202.85 L324.56 202.84 L326.05 202.84 L327.54 202.84 L329.03 202.84 L330.53 202.84 L332.03 202.84 L333.53 202.84 L335.04 202.85 L336.55 202.86 L338.06 202.87 L339.58 202.88 L341.11 202.9" fill="none" stroke="#2f57a6" stroke-width="2.8" stroke-linejoin="round"/>
<path d="M183.36 329 L184.11 327.72 L184.84 326.44 L185.56 325.14 L186.27 323.84 L186.96 322.53 L187.64 321.21 L188.3 319.88 L188.95 318.54 L189.59 317.2 L190.21 315.85 L190.82 314.49 L191.41 313.12 L192 311.75 L192.57 310.37 L193.13 308.99 L193.67 307.6 L194.21 306.2 L194.73 304.8 L195.24 303.39 L195.74 301.98 L196.22 300.57 L196.7 299.15 L197.16 297.72 L197.61 296.3 L198.06 294.87 L198.49 293.43 L198.91 291.99 L199.32 290.55 L199.72 289.11 L200.11 287.66 L200.49 286.22 L200.86 284.77 L201.22 283.32 L201.57 281.86 L201.92 280.41 L202.25 278.96 L202.58 277.5 L202.89 276.05 L203.2 274.59 L203.51 273.13 L203.81 271.68 L204.11 270.22 L204.41 268.76 L204.7 267.3 L205 265.85 L205.3 264.39 L205.61 262.93 L205.92 261.47 L206.24 260.01 L206.57 258.56 L206.9 257.1 L207.25 255.65 L207.61 254.2 L207.97 252.75 L208.35 251.31 L208.74 249.88 L209.15 248.45 L209.57 247.03 L210 245.62 L210.45 244.22 L210.9 242.82 L211.37 241.42 L211.85 240.03 L212.34 238.64 L212.84 237.24 L213.35 235.85 L213.87 234.46 L214.39 233.06 L214.92 231.66 L215.46 230.25 L216 228.84 L216.55 227.42 L217.1 225.99 L217.66 224.55 L218.23 223.11 L218.81 221.68 L219.41 220.25 L220.03 218.85 L220.68 217.47 L221.37 216.12 L222.09 214.81 L222.86 213.55 L223.67 212.33 L224.55 211.18 L225.48 210.09 L226.47 209.08 L227.53 208.14 L228.66 207.29 L229.86 206.52 L231.11 205.83 L232.41 205.21 L233.75 204.67 L235.12 204.19 L236.52 203.78 L237.94 203.43 L239.37 203.13 L240.82 202.89 L242.28 202.7 L243.75 202.55 L245.24 202.45 L246.74 202.38 L248.24 202.34 L249.76 202.34 L251.28 202.36 L252.8 202.4 L254.33 202.46 L255.87 202.53 L257.4 202.61 L258.93 202.69 L260.47 202.78 L262 202.86 L263.52 202.94 L265.04 203.01 L266.56 203.06 L268.07 203.11 L269.58 203.14 L271.08 203.17 L272.58 203.19 L274.07 203.2 L275.56 203.2 L277.05 203.2 L278.53 203.19 L280.02 203.17 L281.5 203.15 L282.98 203.13 L284.45 203.1 L285.93 203.07 L287.41 203.04 L288.88 203 L290.36 202.97 L291.83 202.93 L293.31 202.9 L294.78 202.87 L296.26 202.83 L297.74 202.8 L299.22 202.78 L300.7 202.75 L302.18 202.74 L303.67 202.72 L305.16 202.71 L306.65 202.71 L308.15 202.71 L309.65 202.72 L311.15 202.74 L312.66 202.76 L314.16 202.78 L315.67 202.81 L317.18 202.83 L318.69 202.86 L320.2 202.89 L321.71 202.92 L323.21 202.95 L324.72 202.97 L326.23 202.99 L327.73 203.01 L329.23 203.03 L330.73 203.04 L332.23 203.04 L333.72 203.04 L335.2 203.03 L336.69 203.01 L338.17 202.98 L339.64 202.95 L341.11 202.9" fill="none" stroke="#ec2a3a" stroke-width="2.8" stroke-linejoin="round"/>
<path d="M183.35 329 L183.92 327.62 L184.47 326.23 L185.01 324.83 L185.53 323.43 L186.04 322.03 L186.54 320.61 L187.02 319.2 L187.49 317.78 L187.94 316.35 L188.38 314.92 L188.81 313.48 L189.23 312.05 L189.64 310.6 L190.03 309.15 L190.41 307.7 L190.79 306.25 L191.15 304.79 L191.5 303.33 L191.85 301.87 L192.18 300.4 L192.51 298.94 L192.82 297.47 L193.13 295.99 L193.43 294.52 L193.73 293.04 L194.01 291.57 L194.29 290.09 L194.57 288.61 L194.83 287.13 L195.09 285.65 L195.35 284.17 L195.6 282.68 L195.85 281.2 L196.09 279.72 L196.33 278.24 L196.56 276.76 L196.79 275.28 L197.02 273.8 L197.24 272.32 L197.46 270.84 L197.68 269.37 L197.9 267.89 L198.12 266.42 L198.34 264.95 L198.56 263.47 L198.78 262 L199 260.53 L199.22 259.06 L199.45 257.59 L199.67 256.12 L199.9 254.65 L200.14 253.19 L200.38 251.72 L200.62 250.25 L200.87 248.78 L201.12 247.32 L201.39 245.85 L201.65 244.38 L201.93 242.92 L202.21 241.45 L202.5 239.98 L202.81 238.51 L203.12 237.05 L203.44 235.58 L203.77 234.11 L204.11 232.64 L204.46 231.17 L204.83 229.7 L205.21 228.22 L205.6 226.75 L206 225.28 L206.42 223.8 L206.85 222.33 L207.3 220.85 L207.76 219.37 L208.25 217.9 L208.76 216.44 L209.3 215 L209.88 213.6 L210.51 212.25 L211.19 210.96 L211.94 209.74 L212.75 208.6 L213.64 207.55 L214.62 206.61 L215.68 205.79 L216.84 205.09 L218.11 204.53 L219.48 204.1 L220.93 203.79 L222.43 203.56 L223.95 203.37 L225.48 203.21 L227 203.06 L228.52 202.93 L230.04 202.82 L231.55 202.72 L233.07 202.64 L234.58 202.57 L236.1 202.51 L237.61 202.47 L239.12 202.44 L240.62 202.42 L242.13 202.41 L243.64 202.41 L245.14 202.41 L246.65 202.42 L248.15 202.44 L249.65 202.47 L251.15 202.5 L252.66 202.53 L254.16 202.57 L255.66 202.61 L257.16 202.65 L258.66 202.69 L260.15 202.73 L261.65 202.77 L263.15 202.81 L264.65 202.84 L266.15 202.87 L267.65 202.9 L269.14 202.93 L270.64 202.95 L272.14 202.96 L273.64 202.98 L275.14 202.99 L276.64 203 L278.13 203 L279.63 203 L281.13 203 L282.63 203 L284.13 203 L285.63 202.99 L287.13 202.98 L288.62 202.97 L290.12 202.96 L291.62 202.95 L293.12 202.93 L294.62 202.92 L296.12 202.9 L297.62 202.88 L299.12 202.87 L300.61 202.85 L302.11 202.83 L303.61 202.81 L305.11 202.79 L306.61 202.78 L308.11 202.76 L309.61 202.74 L311.11 202.73 L312.61 202.71 L314.11 202.7 L315.61 202.68 L317.1 202.67 L318.6 202.66 L320.1 202.65 L321.6 202.65 L323.1 202.64 L324.6 202.64 L326.1 202.64 L327.6 202.64 L329.1 202.65 L330.6 202.66 L332.1 202.67 L333.6 202.68 L335.1 202.7 L336.6 202.72 L338.1 202.74 L339.61 202.77 L341.11 202.8" fill="none" stroke="#8cd51c" stroke-width="2.8" stroke-linejoin="round"/>
</g>
<path d="M218.27 328.9V324.2" stroke="#000" stroke-width="1.7"/>
<path d="M253.33 328.9V319.4" stroke="#000" stroke-width="1.7"/>
<path d="M288.4 328.9V324.2" stroke="#000" stroke-width="1.7"/>
<path d="M323.47 328.9V319.4" stroke="#000" stroke-width="1.7"/>
<path d="M183.2 303.26H192.2" stroke="#000" stroke-width="1.7"/>
<path d="M183.2 277.62H192.2" stroke="#000" stroke-width="1.7"/>
<path d="M183.2 251.98H192.2" stroke="#000" stroke-width="1.7"/>
<path d="M183.2 226.34H192.2" stroke="#000" stroke-width="1.7"/>
<rect x="183.2" y="200.7" width="157.8" height="128.2" fill="none" stroke="#000" stroke-width="2.2"/>
<g opacity="0.999">
<path d="M709.2 234.8H751.8" stroke="#000000" stroke-width="2.7"/>
<circle cx="730.5" cy="234.8" r="5.76" fill="#000000"/>
<text transform="translate(758.38 239.6) scale(0.9760 1)" style="font-size:19.5px;">100</text>
<text transform="translate(795.11 239.6) scale(1.0875 1)" style="font-size:18.2px;">µ</text>
<text transform="translate(807.51 239.6) scale(0.8945 1)" style="font-size:18.2px;">s</text>
<path d="M709.2 262H751.8" stroke="#2f57a6" stroke-width="2.7"/>
<rect x="724.86" y="256.36" width="11.29" height="11.29" fill="#2f57a6"/>
<text transform="translate(757.83 266.9) scale(0.9932 1)" style="font-size:19.5px;">200</text>
<text transform="translate(795.11 266.9) scale(1.0875 1)" style="font-size:18.2px;">µ</text>
<text transform="translate(807.51 266.9) scale(0.8945 1)" style="font-size:18.2px;">s</text>
<path d="M709.2 289.4H751.8" stroke="#ec2a3a" stroke-width="2.7"/>
<path d="M730.5 283.41 L736.88 295.38 L724.12 295.38Z" fill="#ec2a3a"/>
<text transform="translate(758.42 294.4) scale(0.9747 1)" style="font-size:19.5px;">400</text>
<text transform="translate(795.11 294.4) scale(1.0875 1)" style="font-size:18.2px;">µ</text>
<text transform="translate(807.51 294.4) scale(0.8945 1)" style="font-size:18.2px;">s</text>
<path d="M709.2 316.8H751.8" stroke="#8cd51c" stroke-width="2.7"/>
<path d="M730.5 309.73 L735.46 316.8 L730.5 323.87 L725.54 316.8Z" fill="#8cd51c"/>
<text transform="translate(758.03 321.9) scale(0.9869 1)" style="font-size:19.5px;">800</text>
<text transform="translate(795.11 321.9) scale(1.0875 1)" style="font-size:18.2px;">µ</text>
<text transform="translate(807.51 321.9) scale(0.8945 1)" style="font-size:18.2px;">s</text>
<text transform="translate(706.06 211.4) scale(1.0132 1)" style="font-size:18.6px;font-style:italic;">t</text>
<text transform="translate(712.95 214.1) scale(0.9736 1)" style="font-size:14.2px;">acc</text>
<path d="M743.2 205.5H757.6M743.2 209.2H757.6" stroke="#333" stroke-width="0.9"/>
<text transform="translate(73.47 344.9) scale(0.9259 1)" style="font-size:25.2px;">0</text>
<text transform="translate(54.16 287.62) scale(0.9310 1)" style="font-size:25.2px;">0.2</text>
<text transform="translate(54.18 230.34) scale(0.9169 1)" style="font-size:25.2px;">0.4</text>
<text transform="translate(54.17 173.06) scale(0.9239 1)" style="font-size:25.2px;">0.6</text>
<text transform="translate(54.17 115.78) scale(0.9239 1)" style="font-size:25.2px;">0.8</text>
<text transform="translate(74.33 58.3) scale(0.8306 1)" style="font-size:25.2px;">1</text>
<text transform="translate(199.41 363.5) scale(0.8715 1)" style="font-size:25.2px;">4</text>
<text transform="translate(307.16 363.8) scale(0.9710 1)" style="font-size:25.2px;">8</text>
<text transform="translate(443.41 363.5) scale(0.8715 1)" style="font-size:25.2px;">4</text>
<text transform="translate(551.16 363.8) scale(0.9710 1)" style="font-size:25.2px;">8</text>
<text transform="translate(687.09 363.5) scale(0.8715 1)" style="font-size:25.2px;">4</text>
<text transform="translate(794.54 363.8) scale(0.9710 1)" style="font-size:25.2px;">8</text>
<text transform="translate(103.29 29.2) scale(0.9772 1)" style="font-size:27.6px;font-weight:bold;">A</text>
<path d="M147.9 20H165.8M156.9 12.9V29M148 29.2H165.8" stroke="#000" stroke-width="1.3" fill="none"/>
<text transform="translate(168.19 29.2) scale(0.8615 1)" style="font-size:27px;">2</text>
<text transform="translate(183.84 29.2) scale(0.8541 1)" style="font-size:27px;font-style:italic;">ħ</text>
<text transform="translate(198.46 29.2) scale(0.8191 1)" style="font-size:27px;font-style:italic;">k</text>
<path d="M221 22.5H244.9 M238.6 16.7 C239.6 19.5 242.2 21.7 245.2 22.5 C242.2 23.3 239.6 25.5 238.6 28.3" stroke="#000" stroke-width="1.25" fill="none"/>
<path d="M256 20H273.9M265 12.9V29M256.1 29.2H273.9" stroke="#000" stroke-width="1.3" fill="none"/>
<text transform="translate(276.68 29.2) scale(0.8787 1)" style="font-size:27px;">4</text>
<text transform="translate(292.26 29.2) scale(0.8163 1)" style="font-size:27px;font-style:italic;">ħ</text>
<text transform="translate(306.35 29.2) scale(0.8405 1)" style="font-size:27px;font-style:italic;">k</text>
<text transform="translate(347.45 29.2) scale(0.9563 1)" style="font-size:27.6px;font-weight:bold;">B</text>
<path d="M391.9 20H409.8M400.9 12.9V29M392 29.2H409.8" stroke="#000" stroke-width="1.3" fill="none"/>
<text transform="translate(412.18 29.2) scale(0.8787 1)" style="font-size:27px;">4</text>
<text transform="translate(427.84 29.2) scale(0.8541 1)" style="font-size:27px;font-style:italic;">ħ</text>
<text transform="translate(442.46 29.2) scale(0.8191 1)" style="font-size:27px;font-style:italic;">k</text>
<path d="M465 22.5H488.9 M482.6 16.7 C483.6 19.5 486.2 21.7 489.2 22.5 C486.2 23.3 483.6 25.5 482.6 28.3" stroke="#000" stroke-width="1.25" fill="none"/>
<path d="M500 20H517.9M509 12.9V29M500.1 29.2H517.9" stroke="#000" stroke-width="1.3" fill="none"/>
<text transform="translate(520.38 29.2) scale(0.9018 1)" style="font-size:27px;">6</text>
<text transform="translate(536.26 29.2) scale(0.8163 1)" style="font-size:27px;font-style:italic;">ħ</text>
<text transform="translate(550.35 29.2) scale(0.8405 1)" style="font-size:27px;font-style:italic;">k</text>
<text transform="translate(592.19 29.2) scale(0.9142 1)" style="font-size:27.6px;font-weight:bold;">C</text>
<path d="M635.9 20H653.8M644.9 12.9V29M636 29.2H653.8" stroke="#000" stroke-width="1.3" fill="none"/>
<text transform="translate(655.88 29.2) scale(0.9018 1)" style="font-size:27px;">6</text>
<text transform="translate(671.84 29.2) scale(0.8541 1)" style="font-size:27px;font-style:italic;">ħ</text>
<text transform="translate(686.46 29.2) scale(0.8191 1)" style="font-size:27px;font-style:italic;">k</text>
<path d="M709 22.5H732.9 M726.6 16.7 C727.6 19.5 730.2 21.7 733.2 22.5 C730.2 23.3 727.6 25.5 726.6 28.3" stroke="#000" stroke-width="1.25" fill="none"/>
<path d="M744 20H761.9M753 12.9V29M744.1 29.2H761.9" stroke="#000" stroke-width="1.3" fill="none"/>
<text transform="translate(764.59 29.2) scale(0.8905 1)" style="font-size:27px;">8</text>
<text transform="translate(780.26 29.2) scale(0.8163 1)" style="font-size:27px;font-style:italic;">ħ</text>
<text transform="translate(794.35 29.2) scale(0.8405 1)" style="font-size:27px;font-style:italic;">k</text>
<text transform="translate(338.32 403.5) scale(0.9926 1)" style="font-size:27.4px;">Lattice</text>
<text transform="translate(425.86 403.5) scale(0.9504 1)" style="font-size:27.4px;">depth</text>
<text transform="translate(502.81 403.5) scale(1.0107 1)" style="font-size:27.4px;font-style:italic;">V</text>
<text transform="translate(519.57 407.6) scale(0.9851 1)" style="font-size:18.4px;">0</text>
<text transform="translate(540.94 404.4) scale(0.9683 1)" style="font-size:28.6px;">(</text>
<text transform="translate(552.87 403.5) scale(0.8928 1)" style="font-size:27.4px;font-style:italic;">E</text>
<text transform="translate(566.92 407.6) scale(1.3953 1)" style="font-size:17.2px;">r</text>
<text transform="translate(578.14 404.4) scale(0.9145 1)" style="font-size:28.6px;">)</text>
<text transform="translate(29.7 309.41) rotate(-90) scale(0.9356 1)" style="font-size:27.4px;">Transfer efficiency</text>
<text transform="translate(29.7 91.67) rotate(-90) scale(0.8640 1)" style="font-size:27.4px;font-style:italic;">η</text>
<text transform="translate(223.5 299) scale(0.9524 1)" style="font-size:21px;font-style:italic;">σ</text>
<text transform="translate(238.55 302.6) scale(1.0374 1)" style="font-size:17px;font-style:italic;letter-spacing:0.9px;">pol</text>
<path d="M276.4 291H293M276.4 295.5H293" stroke="#222" stroke-width="0.95"/>
<text transform="translate(302.96 299.3) scale(0.9342 1)" style="font-size:25.2px;">0</text>
<text transform="translate(315.26 299.3) scale(0.9308 1)" style="font-size:25.2px;">%</text>
</g>
</svg>
</body></html>
